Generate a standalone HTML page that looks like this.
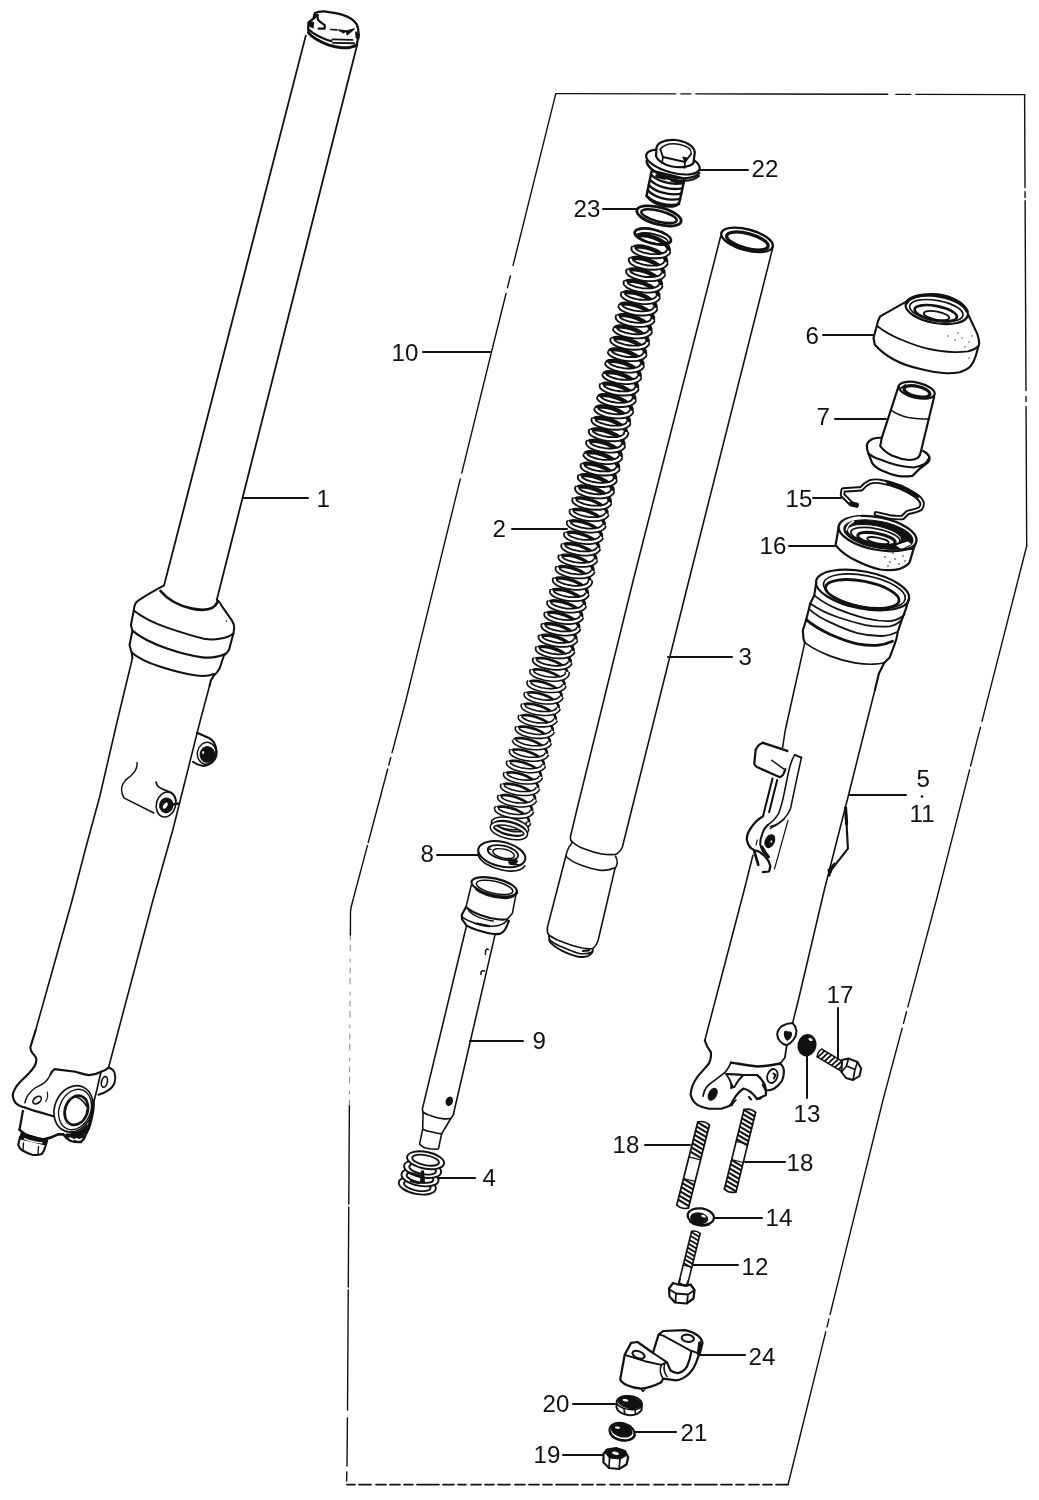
<!DOCTYPE html>
<html><head><meta charset="utf-8"><title>Front fork</title>
<style>
html,body{margin:0;padding:0;background:#fff;}
svg{display:block;}
.lb{font-family:"Liberation Sans",sans-serif;fill:#111;stroke:none;}
#lbl{filter:grayscale(1);}
</style></head><body>
<svg width="1039" height="1500" viewBox="0 0 1039 1500" stroke="#111" fill="none" stroke-linecap="round" stroke-linejoin="round">
<rect x="0" y="0" width="1039" height="1500" fill="#fff" stroke="none"/>
<path d="M555.8,93.6 L1024.6,94.6" stroke-width="1.4" stroke-dasharray="120 5 10 5 192 8 15 5 200 0"/>
<path d="M1024.6,94.6 L1026.7,546" stroke-width="1.4" stroke-dasharray="93 4 6 3 190 6 5 5 200 0"/>
<path d="M1026.7,546 L936.4,900 L883,1100 L789.2,1480 L788,1484.5" stroke-width="1.4" stroke-dasharray="181 6 40 4 245 5 12 5 295 5 8 5 400 0"/>
<path d="M788,1484.6 L347,1484.6" stroke-width="1.7" stroke-dasharray="12 4 9 4 10 5 8 4 11 4 22 4 9 4 10 4 10 5"/>
<path d="M346.6,1481 L346.8,1472 M347,1466 L347.4,1418 M347.5,1410 L349.4,1105" stroke-width="1.4" stroke-dasharray="120 3 80 3 200 0"/>
<path d="M349.4,1105 L350.4,935" stroke-width="1.2" stroke="#9a9a9a" stroke-dasharray="5 6 3 8 6 5"/>
<path d="M350.4,935 L350.5,912 Q350.6,909.5 351.4,906" stroke-width="1.4"/>
<path d="M555.8,93.6 L491.5,352 L406,700 L351.4,906" stroke-width="1.4" stroke-dasharray="177 11 12 6 185 6 282 5 8 4 76 3 300 0"/>
<g id="lbl">
<text x="316.6" y="507.2" font-size="24.1" class="lb">1</text>
<line x1="243" y1="498" x2="308" y2="498" stroke-width="2"/>
<text x="391.6" y="361.2" font-size="24.1" class="lb">10</text>
<line x1="423" y1="352" x2="491" y2="352" stroke-width="2"/>
<text x="492.6" y="537.2" font-size="24.1" class="lb">2</text>
<line x1="512" y1="529" x2="567" y2="529" stroke-width="2"/>
<text x="751.6" y="177.2" font-size="24.1" class="lb">22</text>
<line x1="700" y1="170" x2="748" y2="170" stroke-width="2"/>
<text x="573.6" y="217.2" font-size="24.1" class="lb">23</text>
<line x1="603" y1="209" x2="636" y2="209" stroke-width="2"/>
<text x="738.6" y="665.2" font-size="24.1" class="lb">3</text>
<line x1="668" y1="657" x2="732" y2="657" stroke-width="2"/>
<text x="805.6" y="343.7" font-size="24.1" class="lb">6</text>
<line x1="823" y1="335" x2="873" y2="335" stroke-width="2"/>
<text x="816.6" y="424.7" font-size="24.1" class="lb">7</text>
<line x1="835" y1="419" x2="886" y2="419" stroke-width="2"/>
<text x="785.6" y="507.2" font-size="24.1" class="lb">15</text>
<line x1="813" y1="498" x2="841" y2="498" stroke-width="2"/>
<text x="759.6" y="554.2" font-size="24.1" class="lb">16</text>
<line x1="789" y1="546" x2="835" y2="546" stroke-width="2"/>
<text x="916.6" y="787.2" font-size="24.1" class="lb">5</text>
<line x1="849" y1="795" x2="906" y2="795" stroke-width="2"/>
<text x="909.6" y="821.8000000000001" font-size="24.1" class="lb">11</text>
<circle cx="922" cy="796.5" r="1.3" fill="#111" stroke="none"/>
<text x="420.6" y="861.7" font-size="24.1" class="lb">8</text>
<line x1="437" y1="855" x2="479" y2="855" stroke-width="2"/>
<text x="532.6" y="1049.2" font-size="24.1" class="lb">9</text>
<line x1="470" y1="1041" x2="523" y2="1041" stroke-width="2"/>
<text x="482.6" y="1186.2" font-size="24.1" class="lb">4</text>
<line x1="434" y1="1178" x2="475" y2="1178" stroke-width="2"/>
<text x="826.6" y="1003.2" font-size="24.1" class="lb">17</text>
<line x1="838" y1="1008" x2="838" y2="1058" stroke-width="2"/>
<text x="793.6" y="1122.2" font-size="24.1" class="lb">13</text>
<line x1="807" y1="1045" x2="807" y2="1098" stroke-width="2"/>
<text x="612.6" y="1153.2" font-size="24.1" class="lb">18</text>
<line x1="645" y1="1145" x2="690" y2="1145" stroke-width="2"/>
<text x="786.6" y="1171.2" font-size="24.1" class="lb">18</text>
<line x1="745" y1="1162" x2="785" y2="1162" stroke-width="2"/>
<text x="765.6" y="1226.2" font-size="24.1" class="lb">14</text>
<line x1="714" y1="1218" x2="762" y2="1218" stroke-width="2"/>
<text x="741.6" y="1275.2" font-size="24.1" class="lb">12</text>
<line x1="693" y1="1265" x2="738" y2="1265" stroke-width="2"/>
<text x="748.6" y="1365.2" font-size="24.1" class="lb">24</text>
<line x1="697" y1="1355" x2="745" y2="1355" stroke-width="2"/>
<text x="542.6" y="1412.2" font-size="24.1" class="lb">20</text>
<line x1="573" y1="1404" x2="615" y2="1404" stroke-width="2"/>
<text x="680.6" y="1441.2" font-size="24.1" class="lb">21</text>
<line x1="633" y1="1432" x2="676" y2="1432" stroke-width="2"/>
<text x="533.6" y="1463.2" font-size="24.1" class="lb">19</text>
<line x1="563" y1="1455" x2="605" y2="1455" stroke-width="2"/>
</g>
<path d="M308.6,32.9 L308.2,28.6 L308.6,22.5 L313.4,18.6 L315.1,13 C319,11.2 324,11 329,12.1 C333.5,12.6 338,13.5 342,14.7 C345,15.7 348,17 350.7,18.6 C353,20 355,22 356.7,24.3 C358,27 358.6,30 358.5,32.9 L358,38.1 L356.7,45.1" stroke-width="2.35" fill="none" />
<path d="M308.6,32.9 C310.5,35.3 313,37.3 316,39 C320,41.5 324.5,43.5 329,45.1 C333,46.4 337.5,47.3 342,47.7 C345,47.9 348,47.7 350.7,47.2 C353,46.7 355,46 356.7,45.1" stroke-width="2.91" fill="none" />
<path d="M309.5,29.9 C311.3,31.8 313.5,33.3 316,34.7 C318.8,36.3 321.7,37.7 324.7,39 C327,40 329.3,40.7 331.6,41.2" stroke-width="2.24" fill="none" />
<path d="M332.5,39.4 L352.4,39.9 M333.3,42.9 L354.1,43.3" stroke-width="1.9" fill="none" />
<path d="M317.7,15.2 C317.3,17 317.5,18.5 318.2,19.9 C320,22 322.5,23.6 324.7,25.1 L324.7,28.6 L318.6,28.6" stroke-width="2.24" fill="none" />
<path d="M308.6,22.1 L313.4,22.5 L313,27.7 L308.6,25.5 Z" stroke-width="1.34" fill="#111" />
<path d="M314,14 L318,15 L314.5,18.5 Z" stroke-width="1.12" fill="#111" />
<path d="M330.7,29.5 L336.8,29.9" stroke-width="1.68" fill="none" />
<path d="M338.5,29.9 L343.7,32.9 L346.3,30.8 Z" stroke-width="1.12" fill="#111" />
<path d="M346.3,31.2 L354.1,29 L347.2,34.7 Z" stroke-width="1.34" fill="#111" />
<path d="M355.9,32.1 L359.3,34.7 L358.5,39 L356.3,37.3 Z" stroke-width="1.57" fill="#111" />
<path d="M305.8,35.6 L164.1,585.3" stroke-width="1.79" fill="none" />
<path d="M356.8,46.2 L216.8,599.7" stroke-width="1.79" fill="none" />
<path d="M160.5,591 C168,600 180,606 192,608.6 C202,610.6 214,610.6 217.5,602" stroke-width="2.69" fill="none" />
<path d="M164.1,585.3 C156,590 144,596 136.7,601.9 C134.5,604 134,607 133.8,610.5 L130.9,625 L132.4,630.7 L129.5,645.2 L131.7,652.4 L132.4,658.2" stroke-width="2.02" fill="none" />
<path d="M216.8,599.7 C219,601 220.5,603 221.9,606.2 L232,620.6 C233.5,623 234.3,625.5 234.2,627.9 L233.4,633.6 L229.1,649.5 C228,652 226,654 224,655.3 L219.7,668.3 C218,671.5 216,674 213.9,675.5 C211.5,678.5 210,682 209.6,685.6" stroke-width="2.02" fill="none" />
<path d="M133.8,610.5 C143,618 155,623.5 167.7,627.9 C180,632 192,636 203.8,638.7 C214,640.5 226,639 233.4,633.6" stroke-width="2.02" fill="none" />
<path d="M132.4,630.7 C142,639 155,644.5 167.7,648.8 C180,653 192,656 202.4,657.4 C210,658.3 219,657 225.5,653.8" stroke-width="2.24" fill="none" />
<path d="M131.7,652.4 C139,659 149,663 160.5,666.8 C172,670.5 185,674 196.6,675.5 C203,676.3 209,676 213.9,674" stroke-width="2.02" fill="none" />
<circle cx="226.5" cy="621" r="0.8" fill="#111" stroke="none"/>
<path d="M132.4,658.2 L117.5,720 L100,795.5 L85.2,850 L72.2,900 L35.7,1030" stroke-width="1.62" fill="none" />
<path d="M209.6,685.6 L200.4,720 L172.8,830 L153,900 L108.5,1067.7" stroke-width="1.62" fill="none" />
<path d="M197,732.8 L209,738 C213,740 216,745 216.6,751 C217,757 214,761.5 210.5,763.5 C207,765.8 204,766 202.4,765.8 C198,765 195,763.5 193,761.8" stroke-width="2.02" fill="none" />
<ellipse cx="206.6" cy="753.2" rx="9.2" ry="11" transform="rotate(12 206.6 753.2)" stroke-width="1.46" fill="none" />
<ellipse cx="207.3" cy="754.4" rx="7.2" ry="7.8" transform="rotate(10 207.3 754.4)" stroke-width="1.12" fill="#111" />
<ellipse cx="203.2" cy="752.5" rx="1" ry="1.6" fill="#fff" stroke="none"/>
<path d="M137,762.5 C137.5,766 136.5,768.5 135,771.2 C132.5,775 129,778 125.6,780 M127,779 C123.5,782 121.5,786 121.6,790 C121.8,793.5 122.5,796 124.3,798.2 L153.9,813" stroke-width="1.46" fill="none" />
<path d="M155.9,782 C156.5,784.5 157.5,786 159.3,787.4 C163,790 168,791 171.4,792.8 C174,794.5 175.6,797.5 176.1,800.9" stroke-width="1.68" fill="none" />
<ellipse cx="166" cy="804.5" rx="9.6" ry="12.6" transform="rotate(15 166 804.5)" stroke-width="1.57" fill="none" />
<ellipse cx="166.3" cy="805.3" rx="6.6" ry="7.3" transform="rotate(15 166.3 805.3)" stroke-width="1.12" fill="#111" />
<ellipse cx="165.3" cy="805.6" rx="1.8" ry="3.4" transform="rotate(35 165.3 805.6)" fill="#fff" stroke="none"/>
<path d="M173,804.5 L178,803.5" stroke-width="2.46" fill="none" />
<path d="M35.7,1030 L30.3,1047.5 C30.5,1050 31.2,1051.5 32.3,1052.9 C34.5,1055 36.3,1057 36.4,1059.6 C36.3,1062 35.6,1064.5 34.4,1066.4 C31,1072 26,1076.5 21.6,1080.5 C18.5,1083.5 16,1086.5 14.8,1089.3 C13.2,1092 12.6,1094 12.8,1096 C13,1099 14,1101 15.5,1102.8 C18,1105.5 21.5,1106.8 24.9,1107.5" stroke-width="2.13" fill="none" />
<path d="M24.9,1107.5 C30,1109.5 34.5,1111 39.1,1112.2 C44,1113.5 49,1115 53.9,1116.3" stroke-width="2.24" fill="none" />
<path d="M108.5,1067.7 C106.5,1069.5 104,1071 101.1,1071.8 C97,1074 93,1075 89,1075.1 C84,1074.6 80,1073 75.5,1071.8 L54.6,1069.1 C52.5,1070.5 51.2,1072.5 50.5,1074.5" stroke-width="2.13" fill="none" />
<path d="M50.5,1074.5 C49,1077.5 47,1080.5 44.5,1082.6 C41.5,1085 38,1086.5 35,1088 C32,1090 30,1092.5 28.3,1094.7 C26.5,1097.5 25.4,1100 24.9,1102.8" stroke-width="1.46" fill="none" />
<ellipse cx="37.1" cy="1100.1" rx="4.8" ry="3.0" transform="rotate(-38 37.1 1100.1)" stroke-width="1.68" fill="none" />
<path d="M47.2,1092 C48.2,1095 47.5,1098.5 45.8,1101.4" stroke-width="1.12" fill="none" />
<path d="M108.5,1067.7 C112,1068.5 114,1070.5 114.6,1073.1 C115.6,1076.5 115.6,1079.5 114.6,1082.6 C113.5,1086 111,1088.6 107.8,1090.6 C105,1092.5 101.5,1094 98.4,1094.7" stroke-width="1.9" fill="none" />
<ellipse cx="104.4" cy="1081.9" rx="2.9" ry="5.4" transform="rotate(14 104.4 1081.9)" stroke-width="1.68" fill="none" />
<path d="M101.1,1071.8 C99.5,1078 98.2,1084 97,1089.3 L94.3,1100.1" stroke-width="1.68" fill="none" />
<ellipse cx="73.5" cy="1108.8" rx="18.8" ry="23.8" transform="rotate(22 73.5 1108.8)" stroke-width="1.68" fill="none" />
<ellipse cx="75" cy="1109.5" rx="15.6" ry="20.8" transform="rotate(22 75 1109.5)" stroke-width="1.34" fill="none" />
<ellipse cx="76.3" cy="1110.3" rx="11.2" ry="15" transform="rotate(20 76.3 1110.3)" stroke-width="2.69" fill="none" />
<path d="M76,1097 C80,1098 84,1102 86.5,1106" stroke-width="1.79" fill="none" />
<path d="M93.2,1101 C93.5,1108 92,1116 90,1123 C89,1127 87.8,1130 86.3,1132.4" stroke-width="3.36" fill="none" />
<path d="M70,1132.5 C76,1133.5 82,1131 87,1125 L86,1132 L80,1136 Z" stroke-width="1.34" fill="#111" />
<path d="M22.9,1110.9 L19.5,1129.7" stroke-width="2.24" fill="none" />
<path d="M19.5,1129.7 C23,1133.5 27,1135.5 31,1136.5 C36,1138.5 40,1139.5 44.5,1139.2 C49,1138.5 54,1136.5 58,1134.4 L63.3,1134.4" stroke-width="2.69" fill="none" />
<path d="M63.3,1134.4 C65.5,1137.5 67.5,1139.5 70.1,1140.5 C74,1141.8 77.5,1142.2 80.9,1141.9 C83,1140.5 84.2,1138.6 84.9,1136.5 C86,1134 87,1131 87.6,1128.4" stroke-width="2.46" fill="none" />
<path d="M66,1136.5 L72,1138.5 L78,1139 L83,1137 L84,1134 L66,1134 Z" stroke-width="1.12" fill="#111" />
<path d="M70,1138 l3,1.6 M76,1139 l3,0.6" stroke-width="1.79" fill="none" stroke="#fff"/>
<path d="M20.2,1136.5 L18.2,1144.6 C19,1147 20,1148.8 21.6,1150 C25,1152 28.5,1153.7 32.3,1154.7 C35.5,1155.2 38.8,1155 41.8,1154 C43.5,1152 44.5,1149.8 45.1,1147.3 L47.2,1140.5" stroke-width="2.13" fill="none" />
<path d="M21,1133 L47,1140 L45.5,1145 L20.5,1139 Z" stroke-width="1.12" fill="#111" />
<path d="M24.5,1138.6 C30,1141.2 36,1142.5 42,1142.8" stroke-width="1.34" fill="none" stroke="#fff"/>
<path d="M23.5,1143 L23,1150 M38.5,1146.5 L38,1154" stroke-width="1.34" fill="none" />
<path d="M636.0,236.8 L636.7,236.0 L638.2,235.3 L640.4,235.0 L643.2,235.1 L646.6,235.5 L650.2,236.4 L653.9,237.5 L657.5,239.0 L660.9,240.8 L663.9,242.7 L666.2,244.8 L667.9,246.9 L668.7,249.0 L668.7,250.9 L667.8,252.6" stroke-width="4.30" stroke-linecap="butt" stroke="#111"/>
<path d="M633.4,248.3 L634.1,247.4 L635.6,246.8 L637.8,246.5 L640.6,246.5 L644.0,247.0 L647.6,247.8 L651.3,249.0 L655.0,250.5 L658.3,252.2 L661.3,254.2 L663.6,256.2 L665.3,258.3 L666.1,260.4 L666.1,262.3 L665.2,264.0" stroke-width="4.30" stroke-linecap="butt" stroke="#111"/>
<path d="M630.8,259.7 L631.5,258.8 L633.0,258.2 L635.2,257.9 L638.0,258.0 L641.4,258.4 L645.0,259.2 L648.7,260.4 L652.3,261.9 L655.7,263.7 L658.7,265.6 L661.0,267.7 L662.7,269.8 L663.5,271.8 L663.5,273.7 L662.6,275.4" stroke-width="4.30" stroke-linecap="butt" stroke="#111"/>
<path d="M628.2,271.1 L628.9,270.2 L630.4,269.6 L632.6,269.3 L635.4,269.4 L638.7,269.8 L642.4,270.7 L646.1,271.8 L649.7,273.3 L653.1,275.1 L656.1,277.0 L658.4,279.1 L660.1,281.2 L660.9,283.2 L660.9,285.2 L660.0,286.9" stroke-width="4.30" stroke-linecap="butt" stroke="#111"/>
<path d="M625.6,282.6 L626.3,281.7 L627.7,281.1 L630.0,280.8 L632.8,280.8 L636.1,281.3 L639.7,282.1 L643.5,283.3 L647.1,284.8 L650.5,286.5 L653.4,288.5 L655.8,290.5 L657.4,292.6 L658.3,294.7 L658.3,296.6 L657.4,298.3" stroke-width="4.30" stroke-linecap="butt" stroke="#111"/>
<path d="M622.9,294.0 L623.6,293.1 L625.1,292.5 L627.3,292.2 L630.2,292.3 L633.5,292.7 L637.1,293.5 L640.8,294.7 L644.5,296.2 L647.9,297.9 L650.8,299.9 L653.2,302.0 L654.8,304.1 L655.6,306.1 L655.6,308.0 L654.8,309.7" stroke-width="4.30" stroke-linecap="butt" stroke="#111"/>
<path d="M620.5,306.5 L620.3,305.4 L621.0,304.5 L622.5,303.9 L624.7,303.6 L627.5,303.7 L630.9,304.1 L634.5,305.0 L638.2,306.1 L641.8,307.6 L645.2,309.4 L648.2,311.3 L650.5,313.4 L652.2,315.5 L653.0,317.5 L653.0,319.5 L652.1,321.2" stroke-width="4.30" stroke-linecap="butt" stroke="#111"/>
<path d="M617.7,316.9 L618.3,316.0 L619.8,315.4 L622.1,315.1 L624.9,315.1 L628.2,315.6 L631.8,316.4 L635.6,317.6 L639.2,319.1 L642.6,320.8 L645.5,322.8 L647.9,324.8 L649.5,326.9 L650.4,329.0 L650.3,330.9 L649.5,332.6" stroke-width="4.30" stroke-linecap="butt" stroke="#111"/>
<path d="M615.2,329.4 L615.0,328.3 L615.7,327.4 L617.2,326.8 L619.4,326.5 L622.3,326.6 L625.6,327.0 L629.2,327.8 L632.9,329.0 L636.6,330.5 L639.9,332.2 L642.9,334.2 L645.2,336.3 L646.9,338.4 L647.7,340.4 L647.7,342.3 L646.8,344.0" stroke-width="4.30" stroke-linecap="butt" stroke="#111"/>
<path d="M612.4,339.7 L613.0,338.8 L614.5,338.2 L616.8,337.9 L619.6,338.0 L622.9,338.4 L626.5,339.3 L630.2,340.4 L633.9,341.9 L637.3,343.7 L640.2,345.6 L642.6,347.7 L644.2,349.8 L645.0,351.8 L645.0,353.8 L644.2,355.5" stroke-width="4.30" stroke-linecap="butt" stroke="#111"/>
<path d="M609.9,352.3 L609.7,351.2 L610.4,350.3 L611.9,349.6 L614.1,349.4 L616.9,349.4 L620.2,349.9 L623.8,350.7 L627.6,351.9 L631.2,353.3 L634.6,355.1 L637.5,357.1 L639.9,359.1 L641.5,361.2 L642.4,363.3 L642.4,365.2 L641.5,366.9" stroke-width="4.30" stroke-linecap="butt" stroke="#111"/>
<path d="M607.2,363.7 L607.0,362.6 L607.7,361.7 L609.2,361.1 L611.4,360.8 L614.2,360.9 L617.6,361.3 L621.2,362.1 L624.9,363.3 L628.5,364.8 L631.9,366.5 L634.9,368.5 L637.2,370.5 L638.9,372.6 L639.7,374.7 L639.7,376.6 L638.8,378.3" stroke-width="4.30" stroke-linecap="butt" stroke="#111"/>
<path d="M604.5,375.1 L604.3,374.0 L605.0,373.1 L606.5,372.5 L608.7,372.2 L611.6,372.3 L614.9,372.7 L618.5,373.5 L622.2,374.7 L625.9,376.2 L629.2,378.0 L632.2,379.9 L634.5,382.0 L636.2,384.1 L637.0,386.1 L637.0,388.0 L636.1,389.8" stroke-width="4.30" stroke-linecap="butt" stroke="#111"/>
<path d="M601.7,385.5 L602.3,384.6 L603.8,383.9 L606.0,383.6 L608.9,383.7 L612.2,384.2 L615.8,385.0 L619.5,386.2 L623.2,387.6 L626.6,389.4 L629.5,391.3 L631.8,393.4 L633.5,395.5 L634.3,397.6 L634.3,399.5 L633.4,401.2" stroke-width="4.30" stroke-linecap="butt" stroke="#111"/>
<path d="M599.1,398.0 L599.0,396.9 L599.6,396.0 L601.1,395.4 L603.3,395.1 L606.2,395.1 L609.5,395.6 L613.1,396.4 L616.8,397.6 L620.5,399.1 L623.9,400.8 L626.8,402.8 L629.1,404.8 L630.8,406.9 L631.6,409.0 L631.6,410.9 L630.7,412.6" stroke-width="4.30" stroke-linecap="butt" stroke="#111"/>
<path d="M596.4,409.4 L596.2,408.3 L596.9,407.4 L598.4,406.8 L600.6,406.5 L603.5,406.6 L606.8,407.0 L610.4,407.8 L614.1,409.0 L617.8,410.5 L621.1,412.3 L624.1,414.2 L626.4,416.3 L628.1,418.4 L628.9,420.4 L628.9,422.3 L628.0,424.1" stroke-width="4.30" stroke-linecap="butt" stroke="#111"/>
<path d="M593.5,419.7 L594.2,418.9 L595.7,418.2 L597.9,417.9 L600.8,418.0 L604.1,418.5 L607.7,419.3 L611.4,420.4 L615.0,421.9 L618.4,423.7 L621.4,425.6 L623.7,427.7 L625.4,429.8 L626.2,431.9 L626.2,433.8" stroke-width="4.30" stroke-linecap="butt" stroke="#111"/>
<path d="M590.8,431.2 L591.5,430.3 L593.0,429.7 L595.2,429.4 L598.0,429.4 L601.3,429.9 L604.9,430.7 L608.7,431.9 L612.3,433.4 L615.7,435.1 L618.6,437.1 L621.0,439.1 L622.6,441.2 L623.5,443.3 L623.4,445.2 L622.6,446.9" stroke-width="4.30" stroke-linecap="butt" stroke="#111"/>
<path d="M588.1,442.6 L588.8,441.7 L590.2,441.1 L592.5,440.8 L595.3,440.9 L598.6,441.3 L602.2,442.1 L605.9,443.3 L609.6,444.8 L613.0,446.6 L615.9,448.5 L618.3,450.6 L619.9,452.7 L620.7,454.7 L620.7,456.6 L619.8,458.3" stroke-width="4.30" stroke-linecap="butt" stroke="#111"/>
<path d="M585.5,455.1 L585.3,454.0 L586.0,453.1 L587.5,452.5 L589.7,452.2 L592.6,452.3 L595.9,452.7 L599.5,453.6 L603.2,454.7 L606.8,456.2 L610.2,458.0 L613.2,459.9 L615.5,462.0 L617.2,464.1 L618.0,466.1 L618.0,468.1 L617.1,469.8" stroke-width="4.30" stroke-linecap="butt" stroke="#111"/>
<path d="M582.6,465.5 L583.3,464.6 L584.8,464.0 L587.0,463.7 L589.8,463.7 L593.1,464.2 L596.7,465.0 L600.5,466.2 L604.1,467.7 L607.5,469.4 L610.4,471.4 L612.8,473.4 L614.4,475.5 L615.2,477.6 L615.2,479.5 L614.4,481.2" stroke-width="4.30" stroke-linecap="butt" stroke="#111"/>
<path d="M579.8,476.9 L580.5,476.0 L582.0,475.4 L584.2,475.1 L587.1,475.2 L590.4,475.6 L594.0,476.4 L597.7,477.6 L601.3,479.1 L604.7,480.8 L607.7,482.8 L610.0,484.9 L611.6,487.0 L612.5,489.0 L612.5,490.9 L611.6,492.6" stroke-width="4.30" stroke-linecap="butt" stroke="#111"/>
<path d="M577.1,488.3 L577.8,487.4 L579.2,486.8 L581.5,486.5 L584.3,486.6 L587.6,487.0 L591.2,487.9 L594.9,489.0 L598.6,490.5 L602.0,492.3 L604.9,494.2 L607.2,496.3 L608.9,498.4 L609.7,500.4 L609.7,502.4 L608.8,504.1" stroke-width="4.30" stroke-linecap="butt" stroke="#111"/>
<path d="M574.3,499.8 L575.0,498.9 L576.5,498.3 L578.7,498.0 L581.5,498.0 L584.8,498.5 L588.4,499.3 L592.2,500.5 L595.8,502.0 L599.2,503.7 L602.1,505.7 L604.5,507.7 L606.1,509.8 L606.9,511.9 L606.9,513.8 L606.1,515.5" stroke-width="3.40" stroke-linecap="butt" stroke="#111"/>
<path d="M571.5,511.2 L572.2,510.3 L573.7,509.7 L575.9,509.4 L578.7,509.5 L582.0,509.9 L585.7,510.7 L589.4,511.9 L593.0,513.4 L596.4,515.1 L599.3,517.1 L601.7,519.2 L603.3,521.3 L604.2,523.3 L604.1,525.2 L603.3,526.9" stroke-width="3.40" stroke-linecap="butt" stroke="#111"/>
<path d="M568.7,522.6 L569.4,521.7 L570.9,521.1 L573.1,520.8 L576.0,520.9 L579.3,521.3 L582.9,522.2 L586.6,523.3 L590.2,524.8 L593.6,526.6 L596.6,528.5 L598.9,530.6 L600.5,532.7 L601.4,534.7 L601.3,536.7 L600.5,538.4" stroke-width="3.40" stroke-linecap="butt" stroke="#111"/>
<path d="M566.0,534.1 L566.6,533.2 L568.1,532.5 L570.3,532.3 L573.2,532.3 L576.5,532.8 L580.1,533.6 L583.8,534.8 L587.4,536.3 L590.8,538.0 L593.8,540.0 L596.1,542.0 L597.7,544.1 L598.6,546.2 L598.6,548.1 L597.7,549.8" stroke-width="3.40" stroke-linecap="butt" stroke="#111"/>
<path d="M563.2,545.5 L563.8,544.6 L565.3,544.0 L567.5,543.7 L570.4,543.8 L573.7,544.2 L577.3,545.0 L581.0,546.2 L584.6,547.7 L588.0,549.4 L591.0,551.4 L593.3,553.4 L594.9,555.6 L595.8,557.6 L595.7,559.5 L594.9,561.2" stroke-width="3.40" stroke-linecap="butt" stroke="#111"/>
<path d="M560.3,556.9 L561.0,556.0 L562.5,555.4 L564.7,555.1 L567.5,555.2 L570.9,555.6 L574.5,556.4 L578.2,557.6 L581.8,559.1 L585.2,560.9 L588.1,562.8 L590.5,564.9 L592.1,567.0 L592.9,569.0 L592.9,570.9 L592.1,572.7" stroke-width="3.40" stroke-linecap="butt" stroke="#111"/>
<path d="M557.5,568.4 L558.2,567.5 L559.7,566.8 L561.9,566.5 L564.7,566.6 L568.0,567.1 L571.6,567.9 L575.4,569.1 L579.0,570.5 L582.4,572.3 L585.3,574.2 L587.7,576.3 L589.3,578.4 L590.1,580.5 L590.1,582.4" stroke-width="3.40" stroke-linecap="butt" stroke="#111"/>
<path d="M554.7,579.8 L555.4,578.9 L556.8,578.3 L559.1,578.0 L561.9,578.0 L565.2,578.5 L568.8,579.3 L572.5,580.5 L576.2,582.0 L579.6,583.7 L582.5,585.7 L584.8,587.7 L586.5,589.8 L587.3,591.9 L587.3,593.8 L586.4,595.5" stroke-width="3.40" stroke-linecap="butt" stroke="#111"/>
<path d="M551.9,591.2 L552.5,590.3 L554.0,589.7 L556.2,589.4 L559.1,589.5 L562.4,589.9 L566.0,590.7 L569.7,591.9 L573.3,593.4 L576.7,595.2 L579.7,597.1 L582.0,599.2 L583.6,601.3 L584.5,603.3 L584.4,605.2 L583.6,607.0" stroke-width="3.40" stroke-linecap="butt" stroke="#111"/>
<path d="M549.0,602.6 L549.7,601.8 L551.2,601.1 L553.4,600.8 L556.2,600.9 L559.5,601.4 L563.1,602.2 L566.9,603.3 L570.5,604.8 L573.9,606.6 L576.8,608.5 L579.2,610.6 L580.8,612.7 L581.6,614.8 L581.6,616.7 L580.7,618.4" stroke-width="3.40" stroke-linecap="butt" stroke="#111"/>
<path d="M546.2,614.1 L546.8,613.2 L548.3,612.6 L550.5,612.3 L553.4,612.3 L556.7,612.8 L560.3,613.6 L564.0,614.8 L567.6,616.3 L571.0,618.0 L574.0,620.0 L576.3,622.0 L577.9,624.1 L578.8,626.2 L578.7,628.1 L577.9,629.8" stroke-width="3.40" stroke-linecap="butt" stroke="#111"/>
<path d="M543.3,625.5 L544.0,624.6 L545.5,624.0 L547.7,623.7 L550.5,623.8 L553.8,624.2 L557.4,625.0 L561.1,626.2 L564.8,627.7 L568.2,629.5 L571.1,631.4 L573.4,633.5 L575.1,635.6 L575.9,637.6 L575.9,639.5 L575.0,641.2" stroke-width="3.40" stroke-linecap="butt" stroke="#111"/>
<path d="M540.4,636.9 L541.1,636.1 L542.6,635.4 L544.8,635.1 L547.6,635.2 L550.9,635.6 L554.6,636.5 L558.3,637.6 L561.9,639.1 L565.3,640.9 L568.2,642.8 L570.6,644.9 L572.2,647.0 L573.0,649.1 L573.0,651.0 L572.1,652.7" stroke-width="3.40" stroke-linecap="butt" stroke="#111"/>
<path d="M537.6,648.4 L538.2,647.5 L539.7,646.9 L541.9,646.6 L544.8,646.6 L548.1,647.1 L551.7,647.9 L555.4,649.1 L559.0,650.6 L562.4,652.3 L565.3,654.3 L567.7,656.3 L569.3,658.4 L570.2,660.5 L570.1,662.4 L569.3,664.1" stroke-width="3.40" stroke-linecap="butt" stroke="#111"/>
<path d="M534.7,659.8 L535.4,658.9 L536.8,658.3 L539.1,658.0 L541.9,658.1 L545.2,658.5 L548.8,659.3 L552.5,660.5 L556.2,662.0 L559.5,663.7 L562.5,665.7 L564.8,667.8 L566.4,669.9 L567.3,671.9 L567.2,673.8" stroke-width="2.70" stroke-linecap="butt" stroke="#111"/>
<path d="M531.8,671.2 L532.5,670.3 L533.9,669.7 L536.2,669.4 L539.0,669.5 L542.3,669.9 L545.9,670.8 L549.6,671.9 L553.3,673.4 L556.6,675.2 L559.6,677.1 L561.9,679.2 L563.5,681.3 L564.4,683.3 L564.4,685.3 L563.5,687.0" stroke-width="2.70" stroke-linecap="butt" stroke="#111"/>
<path d="M528.9,682.7 L529.6,681.8 L531.0,681.2 L533.3,680.9 L536.1,680.9 L539.4,681.4 L543.0,682.2 L546.7,683.4 L550.4,684.9 L553.7,686.6 L556.7,688.6 L559.0,690.6 L560.6,692.7 L561.5,694.8 L561.4,696.7 L560.6,698.4" stroke-width="2.70" stroke-linecap="butt" stroke="#111"/>
<path d="M526.0,694.1 L526.7,693.2 L528.1,692.6 L530.4,692.3 L533.2,692.4 L536.5,692.8 L540.1,693.6 L543.8,694.8 L547.5,696.3 L550.8,698.0 L553.8,700.0 L556.1,702.1 L557.7,704.2 L558.6,706.2 L558.5,708.1 L557.7,709.8" stroke-width="2.70" stroke-linecap="butt" stroke="#111"/>
<path d="M523.1,705.5 L523.7,704.6 L525.2,704.0 L527.4,703.7 L530.3,703.8 L533.6,704.2 L537.2,705.1 L540.9,706.2 L544.5,707.7 L547.9,709.5 L550.8,711.4 L553.2,713.5 L554.8,715.6 L555.6,717.6 L555.6,719.6 L554.7,721.3" stroke-width="2.70" stroke-linecap="butt" stroke="#111"/>
<path d="M520.2,717.0 L520.8,716.1 L522.3,715.5 L524.5,715.2 L527.3,715.2 L530.7,715.7 L534.3,716.5 L538.0,717.7 L541.6,719.2 L545.0,720.9 L547.9,722.9 L550.3,724.9 L551.9,727.0 L552.7,729.1 L552.7,731.0 L551.8,732.7" stroke-width="2.70" stroke-linecap="butt" stroke="#111"/>
<path d="M517.2,728.4 L517.9,727.5 L519.4,726.9 L521.6,726.6 L524.4,726.7 L527.7,727.1 L531.3,727.9 L535.0,729.1 L538.7,730.6 L542.1,732.3 L545.0,734.3 L547.3,736.4 L549.0,738.5 L549.8,740.5 L549.8,742.4 L548.9,744.1" stroke-width="2.70" stroke-linecap="butt" stroke="#111"/>
<path d="M514.5,740.9 L514.3,739.8 L515.0,738.9 L516.4,738.3 L518.6,738.0 L521.5,738.1 L524.8,738.5 L528.4,739.3 L532.1,740.5 L535.7,742.0 L539.1,743.8 L542.0,745.7 L544.4,747.8 L546.0,749.9 L546.8,751.9 L546.8,753.9 L545.9,755.6" stroke-width="2.70" stroke-linecap="butt" stroke="#111"/>
<path d="M511.3,751.3 L512.0,750.4 L513.5,749.7 L515.7,749.5 L518.5,749.5 L521.8,750.0 L525.4,750.8 L529.1,752.0 L532.8,753.4 L536.2,755.2 L539.1,757.1 L541.4,759.2 L543.1,761.3 L543.9,763.4 L543.9,765.3 L543.0,767.0" stroke-width="2.70" stroke-linecap="butt" stroke="#111"/>
<path d="M508.4,762.7 L509.1,761.8 L510.5,761.2 L512.7,760.9 L515.6,760.9 L518.9,761.4 L522.5,762.2 L526.2,763.4 L529.8,764.9 L533.2,766.6 L536.1,768.6 L538.5,770.6 L540.1,772.7 L540.9,774.8 L540.9,776.7 L540.0,778.4" stroke-width="2.70" stroke-linecap="butt" stroke="#111"/>
<path d="M505.4,774.1 L506.1,773.2 L507.6,772.6 L509.8,772.3 L512.6,772.4 L515.9,772.8 L519.5,773.6 L523.2,774.8 L526.9,776.3 L530.2,778.1 L533.2,780.0 L535.5,782.1 L537.1,784.2 L538.0,786.2 L537.9,788.1 L537.1,789.9" stroke-width="2.70" stroke-linecap="butt" stroke="#111"/>
<path d="M502.5,785.6 L503.1,784.7 L504.6,784.0 L506.8,783.7 L509.6,783.8 L512.9,784.3 L516.5,785.1 L520.3,786.2 L523.9,787.7 L527.3,789.5 L530.2,791.4 L532.5,793.5 L534.2,795.6 L535.0,797.7 L535.0,799.6 L534.1,801.3" stroke-width="2.70" stroke-linecap="butt" stroke="#111"/>
<path d="M499.5,797.0 L500.1,796.1 L501.6,795.5 L503.8,795.2 L506.7,795.2 L510.0,795.7 L513.6,796.5 L517.3,797.7 L520.9,799.2 L524.3,800.9 L527.2,802.9 L529.6,804.9 L531.2,807.0 L532.0,809.1 L532.0,811.0 L531.1,812.7" stroke-width="2.70" stroke-linecap="butt" stroke="#111"/>
<path d="M496.5,808.4 L497.2,807.5 L498.6,806.9 L500.8,806.6 L503.7,806.7 L507.0,807.1 L510.6,807.9 L514.3,809.1 L517.9,810.6 L521.3,812.4 L524.2,814.3 L526.6,816.4 L528.2,818.5 L529.0,820.5 L529.0,822.4 L528.1,824.1" stroke-width="2.70" stroke-linecap="butt" stroke="#111"/>
<path d="M636.0,236.8 L636.7,236.0" stroke-width="6.00" stroke-linecap="butt" stroke="#111"/>
<path d="M636.0,236.8 L636.7,236.0" stroke-width="2.30" stroke-linecap="butt" stroke="#fff"/>
<path d="M668.7,250.9 L667.8,252.6 L666.2,254.0 L663.8,255.1 L660.7,255.9 L657.2,256.2 L653.4,256.2 L649.5,255.9 L645.7,255.2 L642.1,254.3 L639.0,253.1 L636.4,251.9 L634.6,250.6 L633.6,249.4 L633.4,248.3 L634.1,247.4" stroke-width="6.00" stroke-linecap="butt" stroke="#111"/>
<path d="M668.7,250.9 L667.8,252.6 L666.2,254.0 L663.8,255.1 L660.7,255.9 L657.2,256.2 L653.4,256.2 L649.5,255.9 L645.7,255.2 L642.1,254.3 L639.0,253.1 L636.4,251.9 L634.6,250.6 L633.6,249.4 L633.4,248.3 L634.1,247.4" stroke-width="2.30" stroke-linecap="butt" stroke="#fff"/>
<path d="M666.1,262.3 L665.2,264.0 L663.6,265.4 L661.2,266.6 L658.1,267.3 L654.6,267.7 L650.8,267.7 L646.9,267.3 L643.1,266.6 L639.5,265.7 L636.4,264.6 L633.8,263.3 L632.0,262.0 L631.0,260.8 L630.8,259.7 L631.5,258.8" stroke-width="6.00" stroke-linecap="butt" stroke="#111"/>
<path d="M666.1,262.3 L665.2,264.0 L663.6,265.4 L661.2,266.6 L658.1,267.3 L654.6,267.7 L650.8,267.7 L646.9,267.3 L643.1,266.6 L639.5,265.7 L636.4,264.6 L633.8,263.3 L632.0,262.0 L631.0,260.8 L630.8,259.7 L631.5,258.8" stroke-width="2.30" stroke-linecap="butt" stroke="#fff"/>
<path d="M663.5,273.7 L662.6,275.4 L661.0,276.9 L658.5,278.0 L655.5,278.7 L652.0,279.1 L648.2,279.1 L644.3,278.8 L640.5,278.1 L636.9,277.1 L633.8,276.0 L631.2,274.8 L629.4,273.5 L628.4,272.2 L628.2,271.1 L628.9,270.2" stroke-width="6.00" stroke-linecap="butt" stroke="#111"/>
<path d="M663.5,273.7 L662.6,275.4 L661.0,276.9 L658.5,278.0 L655.5,278.7 L652.0,279.1 L648.2,279.1 L644.3,278.8 L640.5,278.1 L636.9,277.1 L633.8,276.0 L631.2,274.8 L629.4,273.5 L628.4,272.2 L628.2,271.1 L628.9,270.2" stroke-width="2.30" stroke-linecap="butt" stroke="#fff"/>
<path d="M660.9,285.2 L660.0,286.9 L658.3,288.3 L655.9,289.4 L652.9,290.2 L649.4,290.5 L645.6,290.5 L641.7,290.2 L637.8,289.5 L634.3,288.6 L631.1,287.4 L628.6,286.2 L626.8,284.9 L625.8,283.7 L625.6,282.6 L626.3,281.7" stroke-width="6.00" stroke-linecap="butt" stroke="#111"/>
<path d="M660.9,285.2 L660.0,286.9 L658.3,288.3 L655.9,289.4 L652.9,290.2 L649.4,290.5 L645.6,290.5 L641.7,290.2 L637.8,289.5 L634.3,288.6 L631.1,287.4 L628.6,286.2 L626.8,284.9 L625.8,283.7 L625.6,282.6 L626.3,281.7" stroke-width="2.30" stroke-linecap="butt" stroke="#fff"/>
<path d="M658.3,296.6 L657.4,298.3 L655.7,299.7 L653.3,300.9 L650.3,301.6 L646.8,302.0 L643.0,302.0 L639.1,301.6 L635.2,300.9 L631.7,300.0 L628.5,298.9 L626.0,297.6 L624.2,296.3 L623.1,295.1 L622.9,294.0 L623.6,293.1" stroke-width="6.00" stroke-linecap="butt" stroke="#111"/>
<path d="M658.3,296.6 L657.4,298.3 L655.7,299.7 L653.3,300.9 L650.3,301.6 L646.8,302.0 L643.0,302.0 L639.1,301.6 L635.2,300.9 L631.7,300.0 L628.5,298.9 L626.0,297.6 L624.2,296.3 L623.1,295.1 L622.9,294.0 L623.6,293.1" stroke-width="2.30" stroke-linecap="butt" stroke="#fff"/>
<path d="M655.6,308.0 L654.8,309.7 L653.1,311.2 L650.7,312.3 L647.6,313.0 L644.1,313.4 L640.3,313.4 L636.4,313.0 L632.6,312.4 L629.0,311.4 L625.9,310.3 L623.3,309.1 L621.5,307.8 L620.5,306.5 L620.3,305.4" stroke-width="6.00" stroke-linecap="butt" stroke="#111"/>
<path d="M655.6,308.0 L654.8,309.7 L653.1,311.2 L650.7,312.3 L647.6,313.0 L644.1,313.4 L640.3,313.4 L636.4,313.0 L632.6,312.4 L629.0,311.4 L625.9,310.3 L623.3,309.1 L621.5,307.8 L620.5,306.5 L620.3,305.4" stroke-width="2.30" stroke-linecap="butt" stroke="#fff"/>
<path d="M653.0,319.5 L652.1,321.2 L650.5,322.6 L648.0,323.7 L645.0,324.5 L641.5,324.8 L637.7,324.8 L633.8,324.5 L630.0,323.8 L626.4,322.9 L623.2,321.7 L620.7,320.5 L618.9,319.2 L617.9,318.0 L617.7,316.9 L618.3,316.0" stroke-width="6.00" stroke-linecap="butt" stroke="#111"/>
<path d="M653.0,319.5 L652.1,321.2 L650.5,322.6 L648.0,323.7 L645.0,324.5 L641.5,324.8 L637.7,324.8 L633.8,324.5 L630.0,323.8 L626.4,322.9 L623.2,321.7 L620.7,320.5 L618.9,319.2 L617.9,318.0 L617.7,316.9 L618.3,316.0" stroke-width="2.30" stroke-linecap="butt" stroke="#fff"/>
<path d="M650.3,330.9 L649.5,332.6 L647.8,334.0 L645.4,335.1 L642.4,335.9 L638.9,336.3 L635.1,336.3 L631.1,335.9 L627.3,335.2 L623.7,334.3 L620.6,333.2 L618.1,331.9 L616.2,330.6 L615.2,329.4 L615.0,328.3" stroke-width="6.00" stroke-linecap="butt" stroke="#111"/>
<path d="M650.3,330.9 L649.5,332.6 L647.8,334.0 L645.4,335.1 L642.4,335.9 L638.9,336.3 L635.1,336.3 L631.1,335.9 L627.3,335.2 L623.7,334.3 L620.6,333.2 L618.1,331.9 L616.2,330.6 L615.2,329.4 L615.0,328.3" stroke-width="2.30" stroke-linecap="butt" stroke="#fff"/>
<path d="M647.7,342.3 L646.8,344.0 L645.2,345.5 L642.7,346.6 L639.7,347.3 L636.2,347.7 L632.4,347.7 L628.5,347.3 L624.6,346.7 L621.1,345.7 L617.9,344.6 L615.4,343.3 L613.6,342.1 L612.5,340.8 L612.4,339.7 L613.0,338.8" stroke-width="6.00" stroke-linecap="butt" stroke="#111"/>
<path d="M647.7,342.3 L646.8,344.0 L645.2,345.5 L642.7,346.6 L639.7,347.3 L636.2,347.7 L632.4,347.7 L628.5,347.3 L624.6,346.7 L621.1,345.7 L617.9,344.6 L615.4,343.3 L613.6,342.1 L612.5,340.8 L612.4,339.7 L613.0,338.8" stroke-width="2.30" stroke-linecap="butt" stroke="#fff"/>
<path d="M645.0,353.8 L644.2,355.5 L642.5,356.9 L640.1,358.0 L637.0,358.8 L633.5,359.1 L629.7,359.1 L625.8,358.8 L622.0,358.1 L618.4,357.2 L615.3,356.0 L612.7,354.8 L610.9,353.5 L609.9,352.3 L609.7,351.2" stroke-width="6.00" stroke-linecap="butt" stroke="#111"/>
<path d="M645.0,353.8 L644.2,355.5 L642.5,356.9 L640.1,358.0 L637.0,358.8 L633.5,359.1 L629.7,359.1 L625.8,358.8 L622.0,358.1 L618.4,357.2 L615.3,356.0 L612.7,354.8 L610.9,353.5 L609.9,352.3 L609.7,351.2" stroke-width="2.30" stroke-linecap="butt" stroke="#fff"/>
<path d="M642.4,365.2 L641.5,366.9 L639.8,368.3 L637.4,369.4 L634.4,370.2 L630.9,370.6 L627.1,370.6 L623.1,370.2 L619.3,369.5 L615.7,368.6 L612.6,367.5 L610.1,366.2 L608.2,364.9 L607.2,363.7 L607.0,362.6" stroke-width="6.00" stroke-linecap="butt" stroke="#111"/>
<path d="M642.4,365.2 L641.5,366.9 L639.8,368.3 L637.4,369.4 L634.4,370.2 L630.9,370.6 L627.1,370.6 L623.1,370.2 L619.3,369.5 L615.7,368.6 L612.6,367.5 L610.1,366.2 L608.2,364.9 L607.2,363.7 L607.0,362.6" stroke-width="2.30" stroke-linecap="butt" stroke="#fff"/>
<path d="M639.7,376.6 L638.8,378.3 L637.1,379.8 L634.7,380.9 L631.7,381.6 L628.2,382.0 L624.4,382.0 L620.5,381.6 L616.6,381.0 L613.1,380.0 L609.9,378.9 L607.4,377.6 L605.5,376.4 L604.5,375.1 L604.3,374.0" stroke-width="6.00" stroke-linecap="butt" stroke="#111"/>
<path d="M639.7,376.6 L638.8,378.3 L637.1,379.8 L634.7,380.9 L631.7,381.6 L628.2,382.0 L624.4,382.0 L620.5,381.6 L616.6,381.0 L613.1,380.0 L609.9,378.9 L607.4,377.6 L605.5,376.4 L604.5,375.1 L604.3,374.0" stroke-width="2.30" stroke-linecap="butt" stroke="#fff"/>
<path d="M637.0,388.0 L636.1,389.8 L634.5,391.2 L632.0,392.3 L629.0,393.1 L625.5,393.4 L621.7,393.4 L617.8,393.1 L613.9,392.4 L610.4,391.5 L607.2,390.3 L604.7,389.1 L602.9,387.8 L601.8,386.6 L601.7,385.5 L602.3,384.6" stroke-width="6.00" stroke-linecap="butt" stroke="#111"/>
<path d="M637.0,388.0 L636.1,389.8 L634.5,391.2 L632.0,392.3 L629.0,393.1 L625.5,393.4 L621.7,393.4 L617.8,393.1 L613.9,392.4 L610.4,391.5 L607.2,390.3 L604.7,389.1 L602.9,387.8 L601.8,386.6 L601.7,385.5 L602.3,384.6" stroke-width="2.30" stroke-linecap="butt" stroke="#fff"/>
<path d="M634.3,399.5 L633.4,401.2 L631.8,402.6 L629.3,403.7 L626.3,404.5 L622.8,404.9 L619.0,404.9 L615.1,404.5 L611.2,403.8 L607.7,402.9 L604.5,401.8 L602.0,400.5 L600.2,399.2 L599.1,398.0 L599.0,396.9" stroke-width="6.00" stroke-linecap="butt" stroke="#111"/>
<path d="M634.3,399.5 L633.4,401.2 L631.8,402.6 L629.3,403.7 L626.3,404.5 L622.8,404.9 L619.0,404.9 L615.1,404.5 L611.2,403.8 L607.7,402.9 L604.5,401.8 L602.0,400.5 L600.2,399.2 L599.1,398.0 L599.0,396.9" stroke-width="2.30" stroke-linecap="butt" stroke="#fff"/>
<path d="M631.6,410.9 L630.7,412.6 L629.1,414.1 L626.6,415.2 L623.6,415.9 L620.1,416.3 L616.3,416.3 L612.4,415.9 L608.5,415.3 L605.0,414.3 L601.8,413.2 L599.3,411.9 L597.5,410.7 L596.4,409.4 L596.2,408.3" stroke-width="6.00" stroke-linecap="butt" stroke="#111"/>
<path d="M631.6,410.9 L630.7,412.6 L629.1,414.1 L626.6,415.2 L623.6,415.9 L620.1,416.3 L616.3,416.3 L612.4,415.9 L608.5,415.3 L605.0,414.3 L601.8,413.2 L599.3,411.9 L597.5,410.7 L596.4,409.4 L596.2,408.3" stroke-width="2.30" stroke-linecap="butt" stroke="#fff"/>
<path d="M628.9,422.3 L628.0,424.1 L626.3,425.5 L623.9,426.6 L620.9,427.3 L617.4,427.7 L613.6,427.7 L609.7,427.4 L605.8,426.7 L602.3,425.7 L599.1,424.6 L596.6,423.4 L594.7,422.1 L593.7,420.8 L593.5,419.7 L594.2,418.9" stroke-width="6.00" stroke-linecap="butt" stroke="#111"/>
<path d="M628.9,422.3 L628.0,424.1 L626.3,425.5 L623.9,426.6 L620.9,427.3 L617.4,427.7 L613.6,427.7 L609.7,427.4 L605.8,426.7 L602.3,425.7 L599.1,424.6 L596.6,423.4 L594.7,422.1 L593.7,420.8 L593.5,419.7 L594.2,418.9" stroke-width="2.30" stroke-linecap="butt" stroke="#fff"/>
<path d="M626.2,431.9 L626.2,433.8 L625.3,435.5 L623.6,436.9 L621.2,438.0 L618.2,438.8 L614.7,439.2 L610.9,439.1 L606.9,438.8 L603.1,438.1 L599.5,437.2 L596.4,436.0 L593.9,434.8 L592.0,433.5 L591.0,432.3 L590.8,431.2 L591.5,430.3" stroke-width="6.00" stroke-linecap="butt" stroke="#111"/>
<path d="M626.2,431.9 L626.2,433.8 L625.3,435.5 L623.6,436.9 L621.2,438.0 L618.2,438.8 L614.7,439.2 L610.9,439.1 L606.9,438.8 L603.1,438.1 L599.5,437.2 L596.4,436.0 L593.9,434.8 L592.0,433.5 L591.0,432.3 L590.8,431.2 L591.5,430.3" stroke-width="2.30" stroke-linecap="butt" stroke="#fff"/>
<path d="M623.4,445.2 L622.6,446.9 L620.9,448.3 L618.5,449.5 L615.4,450.2 L611.9,450.6 L608.1,450.6 L604.2,450.2 L600.4,449.5 L596.8,448.6 L593.7,447.5 L591.1,446.2 L589.3,444.9 L588.3,443.7 L588.1,442.6 L588.8,441.7" stroke-width="6.00" stroke-linecap="butt" stroke="#111"/>
<path d="M623.4,445.2 L622.6,446.9 L620.9,448.3 L618.5,449.5 L615.4,450.2 L611.9,450.6 L608.1,450.6 L604.2,450.2 L600.4,449.5 L596.8,448.6 L593.7,447.5 L591.1,446.2 L589.3,444.9 L588.3,443.7 L588.1,442.6 L588.8,441.7" stroke-width="2.30" stroke-linecap="butt" stroke="#fff"/>
<path d="M620.7,456.6 L619.8,458.3 L618.2,459.8 L615.7,460.9 L612.7,461.6 L609.2,462.0 L605.4,462.0 L601.5,461.7 L597.6,461.0 L594.1,460.0 L590.9,458.9 L588.4,457.7 L586.6,456.4 L585.5,455.1 L585.3,454.0" stroke-width="6.00" stroke-linecap="butt" stroke="#111"/>
<path d="M620.7,456.6 L619.8,458.3 L618.2,459.8 L615.7,460.9 L612.7,461.6 L609.2,462.0 L605.4,462.0 L601.5,461.7 L597.6,461.0 L594.1,460.0 L590.9,458.9 L588.4,457.7 L586.6,456.4 L585.5,455.1 L585.3,454.0" stroke-width="2.30" stroke-linecap="butt" stroke="#fff"/>
<path d="M618.0,468.1 L617.1,469.8 L615.4,471.2 L613.0,472.3 L610.0,473.1 L606.5,473.4 L602.7,473.4 L598.7,473.1 L594.9,472.4 L591.3,471.5 L588.2,470.3 L585.6,469.1 L583.8,467.8 L582.8,466.6 L582.6,465.5 L583.3,464.6" stroke-width="6.00" stroke-linecap="butt" stroke="#111"/>
<path d="M618.0,468.1 L617.1,469.8 L615.4,471.2 L613.0,472.3 L610.0,473.1 L606.5,473.4 L602.7,473.4 L598.7,473.1 L594.9,472.4 L591.3,471.5 L588.2,470.3 L585.6,469.1 L583.8,467.8 L582.8,466.6 L582.6,465.5 L583.3,464.6" stroke-width="2.30" stroke-linecap="butt" stroke="#fff"/>
<path d="M615.2,479.5 L614.4,481.2 L612.7,482.6 L610.3,483.8 L607.2,484.5 L603.7,484.9 L599.9,484.9 L596.0,484.5 L592.1,483.8 L588.6,482.9 L585.4,481.8 L582.9,480.5 L581.1,479.2 L580.0,478.0 L579.8,476.9 L580.5,476.0" stroke-width="6.00" stroke-linecap="butt" stroke="#111"/>
<path d="M615.2,479.5 L614.4,481.2 L612.7,482.6 L610.3,483.8 L607.2,484.5 L603.7,484.9 L599.9,484.9 L596.0,484.5 L592.1,483.8 L588.6,482.9 L585.4,481.8 L582.9,480.5 L581.1,479.2 L580.0,478.0 L579.8,476.9 L580.5,476.0" stroke-width="2.30" stroke-linecap="butt" stroke="#fff"/>
<path d="M612.5,490.9 L611.6,492.6 L609.9,494.1 L607.5,495.2 L604.5,495.9 L601.0,496.3 L597.1,496.3 L593.2,495.9 L589.4,495.3 L585.8,494.3 L582.7,493.2 L580.1,492.0 L578.3,490.7 L577.3,489.4 L577.1,488.3 L577.8,487.4" stroke-width="6.00" stroke-linecap="butt" stroke="#111"/>
<path d="M612.5,490.9 L611.6,492.6 L609.9,494.1 L607.5,495.2 L604.5,495.9 L601.0,496.3 L597.1,496.3 L593.2,495.9 L589.4,495.3 L585.8,494.3 L582.7,493.2 L580.1,492.0 L578.3,490.7 L577.3,489.4 L577.1,488.3 L577.8,487.4" stroke-width="2.30" stroke-linecap="butt" stroke="#fff"/>
<path d="M609.7,502.4 L608.8,504.1 L607.1,505.5 L604.7,506.6 L601.7,507.4 L598.2,507.7 L594.4,507.7 L590.5,507.4 L586.6,506.7 L583.0,505.8 L579.9,504.6 L577.4,503.4 L575.5,502.1 L574.5,500.9 L574.3,499.8 L575.0,498.9" stroke-width="6.00" stroke-linecap="butt" stroke="#111"/>
<path d="M609.7,502.4 L608.8,504.1 L607.1,505.5 L604.7,506.6 L601.7,507.4 L598.2,507.7 L594.4,507.7 L590.5,507.4 L586.6,506.7 L583.0,505.8 L579.9,504.6 L577.4,503.4 L575.5,502.1 L574.5,500.9 L574.3,499.8 L575.0,498.9" stroke-width="2.30" stroke-linecap="butt" stroke="#fff"/>
<path d="M606.9,513.8 L606.1,515.5 L604.4,516.9 L602.0,518.0 L598.9,518.8 L595.4,519.2 L591.6,519.2 L587.7,518.8 L583.8,518.1 L580.3,517.2 L577.1,516.1 L574.6,514.8 L572.7,513.5 L571.7,512.3 L571.5,511.2 L572.2,510.3" stroke-width="5.80" stroke-linecap="butt" stroke="#111"/>
<path d="M606.9,513.8 L606.1,515.5 L604.4,516.9 L602.0,518.0 L598.9,518.8 L595.4,519.2 L591.6,519.2 L587.7,518.8 L583.8,518.1 L580.3,517.2 L577.1,516.1 L574.6,514.8 L572.7,513.5 L571.7,512.3 L571.5,511.2 L572.2,510.3" stroke-width="2.30" stroke-linecap="butt" stroke="#fff"/>
<path d="M604.1,525.2 L603.3,526.9 L601.6,528.4 L599.2,529.5 L596.1,530.2 L592.6,530.6 L588.8,530.6 L584.9,530.2 L581.1,529.6 L577.5,528.6 L574.3,527.5 L571.8,526.2 L570.0,525.0 L568.9,523.7 L568.7,522.6 L569.4,521.7" stroke-width="5.80" stroke-linecap="butt" stroke="#111"/>
<path d="M604.1,525.2 L603.3,526.9 L601.6,528.4 L599.2,529.5 L596.1,530.2 L592.6,530.6 L588.8,530.6 L584.9,530.2 L581.1,529.6 L577.5,528.6 L574.3,527.5 L571.8,526.2 L570.0,525.0 L568.9,523.7 L568.7,522.6 L569.4,521.7" stroke-width="2.30" stroke-linecap="butt" stroke="#fff"/>
<path d="M601.3,536.7 L600.5,538.4 L598.8,539.8 L596.4,540.9 L593.3,541.7 L589.8,542.0 L586.0,542.0 L582.1,541.7 L578.3,541.0 L574.7,540.1 L571.5,538.9 L569.0,537.7 L567.2,536.4 L566.1,535.2 L566.0,534.1 L566.6,533.2" stroke-width="5.80" stroke-linecap="butt" stroke="#111"/>
<path d="M601.3,536.7 L600.5,538.4 L598.8,539.8 L596.4,540.9 L593.3,541.7 L589.8,542.0 L586.0,542.0 L582.1,541.7 L578.3,541.0 L574.7,540.1 L571.5,538.9 L569.0,537.7 L567.2,536.4 L566.1,535.2 L566.0,534.1 L566.6,533.2" stroke-width="2.30" stroke-linecap="butt" stroke="#fff"/>
<path d="M598.6,548.1 L597.7,549.8 L596.0,551.2 L593.6,552.3 L590.5,553.1 L587.0,553.5 L583.2,553.5 L579.3,553.1 L575.5,552.4 L571.9,551.5 L568.7,550.4 L566.2,549.1 L564.4,547.8 L563.3,546.6 L563.2,545.5 L563.8,544.6" stroke-width="5.80" stroke-linecap="butt" stroke="#111"/>
<path d="M598.6,548.1 L597.7,549.8 L596.0,551.2 L593.6,552.3 L590.5,553.1 L587.0,553.5 L583.2,553.5 L579.3,553.1 L575.5,552.4 L571.9,551.5 L568.7,550.4 L566.2,549.1 L564.4,547.8 L563.3,546.6 L563.2,545.5 L563.8,544.6" stroke-width="2.30" stroke-linecap="butt" stroke="#fff"/>
<path d="M595.7,559.5 L594.9,561.2 L593.2,562.7 L590.8,563.8 L587.7,564.5 L584.2,564.9 L580.4,564.9 L576.5,564.5 L572.7,563.9 L569.1,562.9 L565.9,561.8 L563.4,560.5 L561.6,559.3 L560.5,558.0 L560.3,556.9 L561.0,556.0" stroke-width="5.80" stroke-linecap="butt" stroke="#111"/>
<path d="M595.7,559.5 L594.9,561.2 L593.2,562.7 L590.8,563.8 L587.7,564.5 L584.2,564.9 L580.4,564.9 L576.5,564.5 L572.7,563.9 L569.1,562.9 L565.9,561.8 L563.4,560.5 L561.6,559.3 L560.5,558.0 L560.3,556.9 L561.0,556.0" stroke-width="2.30" stroke-linecap="butt" stroke="#fff"/>
<path d="M592.9,570.9 L592.1,572.7 L590.4,574.1 L588.0,575.2 L584.9,576.0 L581.4,576.3 L577.6,576.3 L573.7,576.0 L569.8,575.3 L566.3,574.4 L563.1,573.2 L560.6,572.0 L558.7,570.7 L557.7,569.5 L557.5,568.4 L558.2,567.5" stroke-width="5.80" stroke-linecap="butt" stroke="#111"/>
<path d="M592.9,570.9 L592.1,572.7 L590.4,574.1 L588.0,575.2 L584.9,576.0 L581.4,576.3 L577.6,576.3 L573.7,576.0 L569.8,575.3 L566.3,574.4 L563.1,573.2 L560.6,572.0 L558.7,570.7 L557.7,569.5 L557.5,568.4 L558.2,567.5" stroke-width="2.30" stroke-linecap="butt" stroke="#fff"/>
<path d="M590.1,580.5 L590.1,582.4 L589.2,584.1 L587.6,585.5 L585.1,586.6 L582.1,587.4 L578.6,587.8 L574.8,587.8 L570.9,587.4 L567.0,586.7 L563.4,585.8 L560.3,584.7 L557.7,583.4 L555.9,582.1 L554.9,580.9 L554.7,579.8 L555.4,578.9" stroke-width="5.80" stroke-linecap="butt" stroke="#111"/>
<path d="M590.1,580.5 L590.1,582.4 L589.2,584.1 L587.6,585.5 L585.1,586.6 L582.1,587.4 L578.6,587.8 L574.8,587.8 L570.9,587.4 L567.0,586.7 L563.4,585.8 L560.3,584.7 L557.7,583.4 L555.9,582.1 L554.9,580.9 L554.7,579.8 L555.4,578.9" stroke-width="2.30" stroke-linecap="butt" stroke="#fff"/>
<path d="M587.3,593.8 L586.4,595.5 L584.7,597.0 L582.3,598.1 L579.3,598.8 L575.8,599.2 L572.0,599.2 L568.0,598.8 L564.2,598.2 L560.6,597.2 L557.5,596.1 L554.9,594.8 L553.1,593.6 L552.0,592.3 L551.9,591.2 L552.5,590.3" stroke-width="5.80" stroke-linecap="butt" stroke="#111"/>
<path d="M587.3,593.8 L586.4,595.5 L584.7,597.0 L582.3,598.1 L579.3,598.8 L575.8,599.2 L572.0,599.2 L568.0,598.8 L564.2,598.2 L560.6,597.2 L557.5,596.1 L554.9,594.8 L553.1,593.6 L552.0,592.3 L551.9,591.2 L552.5,590.3" stroke-width="2.30" stroke-linecap="butt" stroke="#fff"/>
<path d="M584.4,605.2 L583.6,607.0 L581.9,608.4 L579.5,609.5 L576.4,610.2 L572.9,610.6 L569.1,610.6 L565.2,610.3 L561.3,609.6 L557.8,608.6 L554.6,607.5 L552.1,606.3 L550.2,605.0 L549.2,603.7 L549.0,602.6 L549.7,601.8" stroke-width="5.80" stroke-linecap="butt" stroke="#111"/>
<path d="M584.4,605.2 L583.6,607.0 L581.9,608.4 L579.5,609.5 L576.4,610.2 L572.9,610.6 L569.1,610.6 L565.2,610.3 L561.3,609.6 L557.8,608.6 L554.6,607.5 L552.1,606.3 L550.2,605.0 L549.2,603.7 L549.0,602.6 L549.7,601.8" stroke-width="2.30" stroke-linecap="butt" stroke="#fff"/>
<path d="M581.6,616.7 L580.7,618.4 L579.0,619.8 L576.6,620.9 L573.6,621.7 L570.1,622.1 L566.3,622.0 L562.3,621.7 L558.5,621.0 L554.9,620.1 L551.8,618.9 L549.2,617.7 L547.4,616.4 L546.4,615.2 L546.2,614.1 L546.8,613.2" stroke-width="5.80" stroke-linecap="butt" stroke="#111"/>
<path d="M581.6,616.7 L580.7,618.4 L579.0,619.8 L576.6,620.9 L573.6,621.7 L570.1,622.1 L566.3,622.0 L562.3,621.7 L558.5,621.0 L554.9,620.1 L551.8,618.9 L549.2,617.7 L547.4,616.4 L546.4,615.2 L546.2,614.1 L546.8,613.2" stroke-width="2.30" stroke-linecap="butt" stroke="#fff"/>
<path d="M578.7,628.1 L577.9,629.8 L576.2,631.3 L573.8,632.4 L570.7,633.1 L567.2,633.5 L563.4,633.5 L559.5,633.1 L555.6,632.4 L552.1,631.5 L548.9,630.4 L546.4,629.1 L544.5,627.8 L543.5,626.6 L543.3,625.5 L544.0,624.6" stroke-width="5.80" stroke-linecap="butt" stroke="#111"/>
<path d="M578.7,628.1 L577.9,629.8 L576.2,631.3 L573.8,632.4 L570.7,633.1 L567.2,633.5 L563.4,633.5 L559.5,633.1 L555.6,632.4 L552.1,631.5 L548.9,630.4 L546.4,629.1 L544.5,627.8 L543.5,626.6 L543.3,625.5 L544.0,624.6" stroke-width="2.30" stroke-linecap="butt" stroke="#fff"/>
<path d="M575.9,639.5 L575.0,641.2 L573.3,642.7 L570.9,643.8 L567.9,644.5 L564.4,644.9 L560.5,644.9 L556.6,644.6 L552.8,643.9 L549.2,642.9 L546.0,641.8 L543.5,640.6 L541.7,639.3 L540.6,638.0 L540.4,636.9 L541.1,636.1" stroke-width="5.80" stroke-linecap="butt" stroke="#111"/>
<path d="M575.9,639.5 L575.0,641.2 L573.3,642.7 L570.9,643.8 L567.9,644.5 L564.4,644.9 L560.5,644.9 L556.6,644.6 L552.8,643.9 L549.2,642.9 L546.0,641.8 L543.5,640.6 L541.7,639.3 L540.6,638.0 L540.4,636.9 L541.1,636.1" stroke-width="2.30" stroke-linecap="butt" stroke="#fff"/>
<path d="M573.0,651.0 L572.1,652.7 L570.5,654.1 L568.0,655.2 L565.0,656.0 L561.5,656.3 L557.7,656.3 L553.7,656.0 L549.9,655.3 L546.3,654.4 L543.2,653.2 L540.6,652.0 L538.8,650.7 L537.8,649.5 L537.6,648.4 L538.2,647.5" stroke-width="5.80" stroke-linecap="butt" stroke="#111"/>
<path d="M573.0,651.0 L572.1,652.7 L570.5,654.1 L568.0,655.2 L565.0,656.0 L561.5,656.3 L557.7,656.3 L553.7,656.0 L549.9,655.3 L546.3,654.4 L543.2,653.2 L540.6,652.0 L538.8,650.7 L537.8,649.5 L537.6,648.4 L538.2,647.5" stroke-width="2.30" stroke-linecap="butt" stroke="#fff"/>
<path d="M570.1,662.4 L569.3,664.1 L567.6,665.5 L565.2,666.7 L562.1,667.4 L558.6,667.8 L554.8,667.8 L550.9,667.4 L547.0,666.7 L543.4,665.8 L540.3,664.7 L537.7,663.4 L535.9,662.1 L534.9,660.9 L534.7,659.8 L535.4,658.9" stroke-width="5.80" stroke-linecap="butt" stroke="#111"/>
<path d="M570.1,662.4 L569.3,664.1 L567.6,665.5 L565.2,666.7 L562.1,667.4 L558.6,667.8 L554.8,667.8 L550.9,667.4 L547.0,666.7 L543.4,665.8 L540.3,664.7 L537.7,663.4 L535.9,662.1 L534.9,660.9 L534.7,659.8 L535.4,658.9" stroke-width="2.30" stroke-linecap="butt" stroke="#fff"/>
<path d="M567.3,671.9 L567.2,673.8 L566.4,675.5 L564.7,677.0 L562.3,678.1 L559.2,678.8 L555.7,679.2 L551.9,679.2 L548.0,678.8 L544.1,678.2 L540.5,677.2 L537.4,676.1 L534.9,674.9 L533.0,673.6 L532.0,672.3 L531.8,671.2 L532.5,670.3" stroke-width="5.50" stroke-linecap="butt" stroke="#111"/>
<path d="M567.3,671.9 L567.2,673.8 L566.4,675.5 L564.7,677.0 L562.3,678.1 L559.2,678.8 L555.7,679.2 L551.9,679.2 L548.0,678.8 L544.1,678.2 L540.5,677.2 L537.4,676.1 L534.9,674.9 L533.0,673.6 L532.0,672.3 L531.8,671.2 L532.5,670.3" stroke-width="2.40" stroke-linecap="butt" stroke="#fff"/>
<path d="M564.4,685.3 L563.5,687.0 L561.8,688.4 L559.4,689.5 L556.3,690.3 L552.8,690.6 L549.0,690.6 L545.1,690.3 L541.2,689.6 L537.7,688.7 L534.5,687.5 L532.0,686.3 L530.1,685.0 L529.1,683.8 L528.9,682.7 L529.6,681.8" stroke-width="5.50" stroke-linecap="butt" stroke="#111"/>
<path d="M564.4,685.3 L563.5,687.0 L561.8,688.4 L559.4,689.5 L556.3,690.3 L552.8,690.6 L549.0,690.6 L545.1,690.3 L541.2,689.6 L537.7,688.7 L534.5,687.5 L532.0,686.3 L530.1,685.0 L529.1,683.8 L528.9,682.7 L529.6,681.8" stroke-width="2.40" stroke-linecap="butt" stroke="#fff"/>
<path d="M561.4,696.7 L560.6,698.4 L558.9,699.8 L556.5,700.9 L553.4,701.7 L549.9,702.1 L546.1,702.1 L542.2,701.7 L538.3,701.0 L534.7,700.1 L531.6,699.0 L529.1,697.7 L527.2,696.4 L526.2,695.2 L526.0,694.1 L526.7,693.2" stroke-width="5.50" stroke-linecap="butt" stroke="#111"/>
<path d="M561.4,696.7 L560.6,698.4 L558.9,699.8 L556.5,700.9 L553.4,701.7 L549.9,702.1 L546.1,702.1 L542.2,701.7 L538.3,701.0 L534.7,700.1 L531.6,699.0 L529.1,697.7 L527.2,696.4 L526.2,695.2 L526.0,694.1 L526.7,693.2" stroke-width="2.40" stroke-linecap="butt" stroke="#fff"/>
<path d="M558.5,708.1 L557.7,709.8 L556.0,711.3 L553.6,712.4 L550.5,713.1 L547.0,713.5 L543.2,713.5 L539.3,713.1 L535.4,712.5 L531.8,711.5 L528.7,710.4 L526.1,709.1 L524.3,707.9 L523.3,706.6 L523.1,705.5 L523.7,704.6" stroke-width="5.50" stroke-linecap="butt" stroke="#111"/>
<path d="M558.5,708.1 L557.7,709.8 L556.0,711.3 L553.6,712.4 L550.5,713.1 L547.0,713.5 L543.2,713.5 L539.3,713.1 L535.4,712.5 L531.8,711.5 L528.7,710.4 L526.1,709.1 L524.3,707.9 L523.3,706.6 L523.1,705.5 L523.7,704.6" stroke-width="2.40" stroke-linecap="butt" stroke="#fff"/>
<path d="M555.6,719.6 L554.7,721.3 L553.1,722.7 L550.6,723.8 L547.6,724.6 L544.1,724.9 L540.3,724.9 L536.3,724.6 L532.5,723.9 L528.9,723.0 L525.8,721.8 L523.2,720.6 L521.4,719.3 L520.3,718.1 L520.2,717.0 L520.8,716.1" stroke-width="5.50" stroke-linecap="butt" stroke="#111"/>
<path d="M555.6,719.6 L554.7,721.3 L553.1,722.7 L550.6,723.8 L547.6,724.6 L544.1,724.9 L540.3,724.9 L536.3,724.6 L532.5,723.9 L528.9,723.0 L525.8,721.8 L523.2,720.6 L521.4,719.3 L520.3,718.1 L520.2,717.0 L520.8,716.1" stroke-width="2.40" stroke-linecap="butt" stroke="#fff"/>
<path d="M552.7,731.0 L551.8,732.7 L550.1,734.1 L547.7,735.2 L544.7,736.0 L541.2,736.4 L537.3,736.4 L533.4,736.0 L529.6,735.3 L526.0,734.4 L522.8,733.3 L520.3,732.0 L518.5,730.7 L517.4,729.5 L517.2,728.4 L517.9,727.5" stroke-width="5.50" stroke-linecap="butt" stroke="#111"/>
<path d="M552.7,731.0 L551.8,732.7 L550.1,734.1 L547.7,735.2 L544.7,736.0 L541.2,736.4 L537.3,736.4 L533.4,736.0 L529.6,735.3 L526.0,734.4 L522.8,733.3 L520.3,732.0 L518.5,730.7 L517.4,729.5 L517.2,728.4 L517.9,727.5" stroke-width="2.40" stroke-linecap="butt" stroke="#fff"/>
<path d="M549.8,742.4 L548.9,744.1 L547.2,745.6 L544.8,746.7 L541.7,747.4 L538.2,747.8 L534.4,747.8 L530.5,747.4 L526.6,746.8 L523.0,745.8 L519.9,744.7 L517.4,743.4 L515.5,742.2 L514.5,740.9 L514.3,739.8" stroke-width="5.50" stroke-linecap="butt" stroke="#111"/>
<path d="M549.8,742.4 L548.9,744.1 L547.2,745.6 L544.8,746.7 L541.7,747.4 L538.2,747.8 L534.4,747.8 L530.5,747.4 L526.6,746.8 L523.0,745.8 L519.9,744.7 L517.4,743.4 L515.5,742.2 L514.5,740.9 L514.3,739.8" stroke-width="2.40" stroke-linecap="butt" stroke="#fff"/>
<path d="M546.8,753.9 L545.9,755.6 L544.3,757.0 L541.8,758.1 L538.8,758.9 L535.3,759.2 L531.5,759.2 L527.5,758.9 L523.7,758.2 L520.1,757.3 L517.0,756.1 L514.4,754.9 L512.6,753.6 L511.5,752.4 L511.3,751.3 L512.0,750.4" stroke-width="5.50" stroke-linecap="butt" stroke="#111"/>
<path d="M546.8,753.9 L545.9,755.6 L544.3,757.0 L541.8,758.1 L538.8,758.9 L535.3,759.2 L531.5,759.2 L527.5,758.9 L523.7,758.2 L520.1,757.3 L517.0,756.1 L514.4,754.9 L512.6,753.6 L511.5,752.4 L511.3,751.3 L512.0,750.4" stroke-width="2.40" stroke-linecap="butt" stroke="#fff"/>
<path d="M543.9,765.3 L543.0,767.0 L541.3,768.4 L538.9,769.5 L535.8,770.3 L532.3,770.7 L528.5,770.7 L524.6,770.3 L520.7,769.6 L517.2,768.7 L514.0,767.6 L511.5,766.3 L509.6,765.0 L508.6,763.8 L508.4,762.7 L509.1,761.8" stroke-width="5.50" stroke-linecap="butt" stroke="#111"/>
<path d="M543.9,765.3 L543.0,767.0 L541.3,768.4 L538.9,769.5 L535.8,770.3 L532.3,770.7 L528.5,770.7 L524.6,770.3 L520.7,769.6 L517.2,768.7 L514.0,767.6 L511.5,766.3 L509.6,765.0 L508.6,763.8 L508.4,762.7 L509.1,761.8" stroke-width="2.40" stroke-linecap="butt" stroke="#fff"/>
<path d="M540.9,776.7 L540.0,778.4 L538.3,779.9 L535.9,781.0 L532.9,781.7 L529.4,782.1 L525.6,782.1 L521.6,781.7 L517.8,781.1 L514.2,780.1 L511.0,779.0 L508.5,777.7 L506.7,776.5 L505.6,775.2 L505.4,774.1 L506.1,773.2" stroke-width="5.50" stroke-linecap="butt" stroke="#111"/>
<path d="M540.9,776.7 L540.0,778.4 L538.3,779.9 L535.9,781.0 L532.9,781.7 L529.4,782.1 L525.6,782.1 L521.6,781.7 L517.8,781.1 L514.2,780.1 L511.0,779.0 L508.5,777.7 L506.7,776.5 L505.6,775.2 L505.4,774.1 L506.1,773.2" stroke-width="2.40" stroke-linecap="butt" stroke="#fff"/>
<path d="M537.9,788.1 L537.1,789.9 L535.4,791.3 L533.0,792.4 L529.9,793.2 L526.4,793.5 L522.6,793.5 L518.7,793.2 L514.8,792.5 L511.2,791.6 L508.1,790.4 L505.5,789.2 L503.7,787.9 L502.6,786.7 L502.5,785.6 L503.1,784.7" stroke-width="5.50" stroke-linecap="butt" stroke="#111"/>
<path d="M537.9,788.1 L537.1,789.9 L535.4,791.3 L533.0,792.4 L529.9,793.2 L526.4,793.5 L522.6,793.5 L518.7,793.2 L514.8,792.5 L511.2,791.6 L508.1,790.4 L505.5,789.2 L503.7,787.9 L502.6,786.7 L502.5,785.6 L503.1,784.7" stroke-width="2.40" stroke-linecap="butt" stroke="#fff"/>
<path d="M535.0,799.6 L534.1,801.3 L532.4,802.7 L530.0,803.8 L526.9,804.6 L523.4,805.0 L519.6,805.0 L515.7,804.6 L511.8,803.9 L508.2,803.0 L505.1,801.9 L502.5,800.6 L500.7,799.3 L499.7,798.1 L499.5,797.0 L500.1,796.1" stroke-width="5.50" stroke-linecap="butt" stroke="#111"/>
<path d="M535.0,799.6 L534.1,801.3 L532.4,802.7 L530.0,803.8 L526.9,804.6 L523.4,805.0 L519.6,805.0 L515.7,804.6 L511.8,803.9 L508.2,803.0 L505.1,801.9 L502.5,800.6 L500.7,799.3 L499.7,798.1 L499.5,797.0 L500.1,796.1" stroke-width="2.40" stroke-linecap="butt" stroke="#fff"/>
<path d="M532.0,811.0 L531.1,812.7 L529.4,814.2 L527.0,815.3 L524.0,816.0 L520.4,816.4 L516.6,816.4 L512.7,816.0 L508.8,815.4 L505.3,814.4 L502.1,813.3 L499.6,812.0 L497.7,810.7 L496.7,809.5 L496.5,808.4 L497.2,807.5" stroke-width="5.50" stroke-linecap="butt" stroke="#111"/>
<path d="M532.0,811.0 L531.1,812.7 L529.4,814.2 L527.0,815.3 L524.0,816.0 L520.4,816.4 L516.6,816.4 L512.7,816.0 L508.8,815.4 L505.3,814.4 L502.1,813.3 L499.6,812.0 L497.7,810.7 L496.7,809.5 L496.5,808.4 L497.2,807.5" stroke-width="2.40" stroke-linecap="butt" stroke="#fff"/>
<path d="M529.0,822.4 L528.1,824.1 L526.4,825.6 L524.0,826.7 L521.0,827.4 L517.4,827.8 L513.6,827.8 L509.7,827.5 L505.9,826.8 L502.3,825.8 L499.1,824.7 L496.6,823.5 L494.7,822.2 L493.7,820.9 L493.5,819.8" stroke-width="5.50" stroke-linecap="butt" stroke="#111"/>
<path d="M529.0,822.4 L528.1,824.1 L526.4,825.6 L524.0,826.7 L521.0,827.4 L517.4,827.8 L513.6,827.8 L509.7,827.5 L505.9,826.8 L502.3,825.8 L499.1,824.7 L496.6,823.5 L494.7,822.2 L493.7,820.9 L493.5,819.8" stroke-width="2.40" stroke-linecap="butt" stroke="#fff"/>
<ellipse cx="652.8" cy="236.5" rx="18.6" ry="7.0" transform="rotate(13.5 652.8 236.5)" stroke-width="2.69" fill="none" />
<ellipse cx="653.2" cy="238.5" rx="15" ry="4.6" transform="rotate(13.5 653.2 238.5)" stroke-width="1.79" fill="none" />
<ellipse cx="510.0" cy="826.2" rx="17.2" ry="6.4" transform="rotate(13.5 510.0 826.2)" stroke-width="5.15" fill="none" />
<ellipse cx="510.0" cy="826.2" rx="17.2" ry="6.4" transform="rotate(13.5 510.0 826.2)" stroke-width="2.13" fill="none" stroke="#fff"/>
<ellipse cx="508.9" cy="830.6" rx="17.2" ry="6.4" transform="rotate(13.5 508.9 830.6)" stroke-width="5.15" fill="none" />
<ellipse cx="508.9" cy="830.6" rx="17.2" ry="6.4" transform="rotate(13.5 508.9 830.6)" stroke-width="2.13" fill="none" stroke="#fff"/>
<path d="M651.7,170.8 L646.5,196 C650,200.5 655,203.5 660.4,205 C665,206.3 670,206.8 673.5,206.4 C676.5,205.8 678.5,204.2 679.4,202 L684.6,178.6 Z" stroke-width="2.46" fill="#fff" />
<path d="M650.9,174.5 C657.0,181.0 671.0,185.5 683.4,183.0" stroke-width="2.35" fill="none" />
<path d="M649.9,179.8 C656.0,186.3 670.0,190.8 682.4,188.3" stroke-width="2.35" fill="none" />
<path d="M648.8,185.1 C654.9,191.6 668.9,196.1 681.3,193.6" stroke-width="2.35" fill="none" />
<path d="M647.8,190.4 C653.9,196.9 667.9,201.4 680.2,198.9" stroke-width="2.35" fill="none" />
<path d="M646.7,195.7 C652.8,202.2 666.8,206.7 679.2,204.2" stroke-width="2.35" fill="none" />
<path d="M657,176 L681,182.5" stroke-width="3.58" fill="none" />
<path d="M666,180.0 l3.4,0.8" stroke-width="1.68" fill="none" stroke="#fff"/>
<ellipse cx="672.9" cy="162" rx="27.6" ry="10.6" transform="rotate(15 672.9 162)" stroke-width="2.24" fill="#fff" />
<path d="M646.5,160.5 C646,166 654,173 668,176.5 C682,180 695,178.5 699.5,173" stroke-width="2.02" fill="none" />
<path d="M647,163 C650,170 660,176.5 672,179.5 C684,182 694,180.5 699,176" stroke-width="2.02" fill="none" />
<path d="M656.5,148 C657,143 664,139.5 675,140 C686,141 694,146.5 694.8,152 L693.5,163 C690,167 680,168 672,166.5 C664,165 657.5,160.5 656,156 Z" stroke-width="2.24" fill="#fff" />
<path d="M660,149.5 C664,144.5 672,143 680,144.5 C688,146.5 691.5,150 691,153" stroke-width="1.57" fill="none" />
<path d="M660.5,150 L663,157 L685,162 L691,154" stroke-width="1.9" fill="none" />
<path d="M663,157 L662,163 M685,162 L684.5,168" stroke-width="1.68" fill="none" />
<path d="M685,162 l2,-4 l-4,-1 z" stroke-width="1.12" fill="#111" />
<ellipse cx="659" cy="215.9" rx="22.8" ry="8.6" transform="rotate(14.5 659 215.9)" stroke-width="2.8" fill="none" />
<ellipse cx="659" cy="216.2" rx="18.2" ry="5.4" transform="rotate(14.5 659 216.2)" stroke-width="2.58" fill="none" />
<ellipse cx="747" cy="239.8" rx="26.6" ry="10.4" transform="rotate(15 747 239.8)" stroke-width="2.35" fill="none" />
<ellipse cx="747.4" cy="241" rx="21.4" ry="7.4" transform="rotate(15 747.4 241)" stroke-width="3.25" fill="none" />
<path d="M720.6,236.5 L633.3,580 L576.8,810 L570.6,836 C570,839 570.8,841 572.2,841.8" stroke-width="1.57" fill="none" />
<path d="M773.2,246 L689,580 L631.6,810 L622.4,847 C620.5,851 618,853.5 615.5,854.5" stroke-width="1.57" fill="none" />
<path d="M572.2,841.8 C576,845.5 580,847.5 585.4,849.3 C591,851.5 596,853 601.6,853.9 C606,854.6 611,854.8 615.5,854.5" stroke-width="1.57" fill="none" />
<path d="M572.2,842.8 C569.5,845.5 568,848.5 567,851.6 L565.8,856.2 L547.3,927.8 C547,931 547.6,933.5 549,935.3" stroke-width="1.57" fill="none" />
<path d="M615.5,856.2 C616.8,858.5 617.4,860.5 617.2,863.1 C616.8,865.5 616,867.3 614.9,868.9 L598.1,940.5 C597,944 595,946.8 592.9,948.6" stroke-width="1.57" fill="none" />
<path d="M565.8,856.2 C570,860.5 576,863.3 582,865.4 C588,867.6 593.5,869.2 599.3,870.1 C605,870.8 610.5,870 614.9,867.8" stroke-width="1.57" fill="none" />
<path d="M549,935.3 C553.5,938.5 559,941 564.6,942.8 C570,944.8 576,946.8 582,948 C586,948.7 590,949 592.9,948.6" stroke-width="1.68" fill="none" />
<path d="M549,939.4 C553,943 558.5,945.8 564.6,948 C569.5,950 575,952.5 579.7,953.6 C584.5,954.2 589,953.5 592.4,952" stroke-width="1.57" fill="none" />
<path d="M549,936 L549.6,941.7 C553,945.5 557.5,948.5 562.3,950.9 C567.5,953.5 573,955.8 578.5,956.7 C582,957.2 585,956.9 587.7,956.1 C590.5,955 592.2,953 593,950.3" stroke-width="1.9" fill="none" />
<path d="M583,951 l6,-0.6" stroke-width="2.24" fill="none" />
<ellipse cx="501.8" cy="854.2" rx="24" ry="12.2" transform="rotate(13 501.8 854.2)" stroke-width="2.02" fill="#fff" />
<path d="M478.3,852 L478.6,856 C481,862 490,867.5 502,870 C512,872 521,871 524.8,866" stroke-width="1.68" fill="none" />
<ellipse cx="503" cy="852.6" rx="15.5" ry="6.8" transform="rotate(13 503 852.6)" stroke-width="1.79" fill="none" />
<ellipse cx="503.6" cy="853.6" rx="11" ry="4.4" transform="rotate(13 503.6 853.6)" stroke-width="1.46" fill="none" />
<path d="M487.5,848.5 l3,-2 M487.5,848.5 l3.5,1" stroke-width="1.34" fill="none" />
<path d="M508,859 C511,860.5 513.5,860.5 516,859 L517.5,861.5 L514,865 L509.5,864 Z" stroke-width="1.12" fill="#111" />
<path d="M515,864 l5,1.5 l3,-2" stroke-width="1.57" fill="none" />
<ellipse cx="494.2" cy="886.8" rx="23.2" ry="8.4" transform="rotate(13 494.2 886.8)" stroke-width="2.13" fill="#fff" />
<ellipse cx="494.6" cy="887.4" rx="18.6" ry="6.0" transform="rotate(13 494.6 887.4)" stroke-width="1.57" fill="none" />
<path d="M476.5,889 C482,893.5 492,896.5 503,897.6 C509,898 514,896.5 516.6,893" stroke-width="2.91" fill="none" />
<path d="M471.2,885.5 L466,907.1 M516.7,890.7 L512.4,913.2 L507.2,919.3" stroke-width="1.57" fill="none" />
<path d="M466,907.1 C470,910.5 475,913 480.3,914.9 C486,917 492,918.6 497.7,919.3 C501,919.7 504.5,919.7 507.2,919.3" stroke-width="2.13" fill="none" />
<path d="M466,907.1 L461.7,914.9 L462.1,919.3 L466.5,925.3 C470,927.5 474,929 478.6,930.5 C483.5,932 488.5,933.3 493.3,934 C496,934.2 498.5,934.1 500.3,933.6 C503,932.5 505,930 506.3,927.1 L508.9,921" stroke-width="2.13" fill="none" />
<path d="M461.7,916.7 C466,920 471,922 476,923.6 C480.5,925 485,925.9 489,926.2 C493,926.4 496.5,926 499.4,925.3 C502.5,924.3 505.5,922.5 507.8,920" stroke-width="1.68" fill="none" />
<path d="M468.6,910.6 C472,914.5 476.5,916.6 480.3,917.9 C486,919.8 491,921 493.3,921" stroke-width="1.46" fill="none" />
<path d="M477,923.6 l12,2.6" stroke-width="2.24" fill="none" />
<path d="M466.5,925.8 L422.3,1109.2 L423.1,1112.3" stroke-width="1.57" fill="none" />
<path d="M495,934.9 L453.5,1113.7" stroke-width="1.57" fill="none" />
<path d="M423.1,1112.3 C426,1114.2 429,1115.4 432.3,1116.2 C436,1117.6 440,1118.6 443.9,1118.9 C446.5,1119 449,1118.9 450.8,1118.5" stroke-width="1.68" fill="none" />
<path d="M423.1,1112.6 L422.7,1129 L419.6,1143.9 C421,1145.6 422.7,1146.8 424.6,1147.7 C428.5,1148.8 433,1149.3 437.7,1149.3 L438.5,1148.5 L441.6,1133.9 L443.9,1130 L450.8,1118.5 L453.9,1113.9" stroke-width="1.57" fill="none" />
<path d="M422.7,1129.3 C425.5,1130.8 428.8,1131.6 432.3,1132 C435.5,1132.8 438.6,1133.5 441.6,1133.9" stroke-width="1.57" fill="none" />
<ellipse cx="449.3" cy="1101.2" rx="3.6" ry="4.8" transform="rotate(20 449.3 1101.2)" fill="#111" stroke="none"/>
<path d="M485.5,950.5 l1.5,-1.6 l1.4,0.6 M485.7,950.4 l-0.3,4" stroke-width="1.46" fill="none" />
<path d="M481,972 l1.6,-1.4 l2,0.4 M481,972 l0,2.6" stroke-width="1.46" fill="none" />
<ellipse cx="417.3" cy="1185.6" rx="18.8" ry="8.4" transform="rotate(11 417.3 1185.6)" stroke-width="1.9" fill="#fff" />
<ellipse cx="417.3" cy="1185.6" rx="13.6" ry="5.0" transform="rotate(11 417.3 1185.6)" stroke-width="1.79" fill="#fff" />
<ellipse cx="420.0" cy="1177.4" rx="18.8" ry="8.4" transform="rotate(11 420.0 1177.4)" stroke-width="1.9" fill="#fff" />
<ellipse cx="420.0" cy="1177.4" rx="13.6" ry="5.0" transform="rotate(11 420.0 1177.4)" stroke-width="1.79" fill="#fff" />
<ellipse cx="422.6" cy="1169.0" rx="18.8" ry="8.4" transform="rotate(11 422.6 1169.0)" stroke-width="1.9" fill="#fff" />
<ellipse cx="422.6" cy="1169.0" rx="13.6" ry="5.0" transform="rotate(11 422.6 1169.0)" stroke-width="1.79" fill="#fff" />
<ellipse cx="425.6" cy="1160.2" rx="18.8" ry="8.4" transform="rotate(11 425.6 1160.2)" stroke-width="1.9" fill="#fff" />
<ellipse cx="425.6" cy="1160.2" rx="13.6" ry="5.0" transform="rotate(11 425.6 1160.2)" stroke-width="1.79" fill="#fff" />
<path d="M421.5,1171 L423.5,1171 L424.5,1183 L420.5,1183 Z" stroke-width="1.12" fill="#111" />
<path d="M408,1172.5 L420,1175.6 M411,1181 l8,2" stroke-width="2.46" fill="none" />
<path d="M911.5,298.6 L880.2,316.4 C878.5,319 877.5,322.5 876.8,325.8 L873.5,338 L874.8,344.7 C880,350.5 886.5,355.5 893.7,359.5 C902,364 911,367 920.6,369 C928.5,371 936,372.5 943.6,373 C949,373.4 954.5,373.2 959.7,372.3 C964,371 967.8,369 970.5,366.3 C973,363 974.8,359.5 975.9,355.5 L979.3,343.3 C979,340 978.3,337 977.3,333.9 L967.8,313.7" stroke-width="2.13" fill="#fff" />
<path d="M876.8,325.8 C884,331.5 892,336 900.4,339.3 C909,343 918,346.5 927.4,348.7 C936.5,350.8 945.5,352 954.3,352.1 C959,352.2 963.5,352 967.8,351.4 C972,350.5 976,348.5 978.6,346" stroke-width="1.79" fill="none" />
<ellipse cx="936.8" cy="309.8" rx="31.6" ry="13.4" transform="rotate(10 936.8 309.8)" stroke-width="2.24" fill="#fff" />
<path d="M906.5,303 C909,297 922,293.5 938,295 C952,297 963,303 967,311" stroke-width="3.36" fill="none" />
<ellipse cx="936.3" cy="310.6" rx="27" ry="10.2" transform="rotate(10 936.3 310.6)" stroke-width="1.68" fill="none" />
<ellipse cx="935.8" cy="313.2" rx="21.5" ry="7.2" transform="rotate(11 935.8 313.2)" stroke-width="2.69" fill="none" />
<ellipse cx="936.5" cy="315.6" rx="13" ry="4.0" transform="rotate(11 936.5 315.6)" stroke-width="1.79" fill="none" />
<circle cx="958" cy="333" r="0.7" fill="#333" stroke="none"/>
<circle cx="962" cy="338" r="0.7" fill="#333" stroke="none"/>
<circle cx="969" cy="342" r="0.7" fill="#333" stroke="none"/>
<circle cx="965" cy="347" r="0.7" fill="#333" stroke="none"/>
<circle cx="972" cy="336" r="0.7" fill="#333" stroke="none"/>
<circle cx="955" cy="340" r="0.7" fill="#333" stroke="none"/>
<circle cx="948" cy="336" r="0.7" fill="#333" stroke="none"/>
<circle cx="969" cy="358" r="0.7" fill="#333" stroke="none"/>
<path d="M881.8,437.8 C878.5,437.6 875.5,438 872.8,438.8 C869.5,440.3 867.3,442.5 866.9,445.2 C866.5,448 867.2,451 868.5,453.6 L872.2,463.2 C874.5,466.5 877.8,468.8 881.8,470.6 C886.5,472.8 892,474.8 897.6,475.9 C902.5,476.6 907.5,476.6 912.5,475.9 L919.9,468.5 L928.3,462.1 C929.5,460.5 929.8,458.6 929.4,456.8 C928.2,454.2 926,452.3 923.1,451" stroke-width="2.24" fill="#fff" />
<path d="M868.5,453.6 C872,456.5 876.5,458.5 881.8,460 C887,462 892,464 897.6,465.3 C903,466.6 908.5,467.4 913.5,467.4 C917.5,467 921,466 924.1,464.2 C926.5,462.5 928.3,460 929.2,457.5" stroke-width="2.02" fill="none" />
<path d="M898.7,385.9 L881.8,437.8 L880.2,446.2 C883.5,450.5 887.5,453.5 892.4,455.8 C897.5,458 903.5,459.6 909.3,460 C912.5,460 915.5,459.3 917.8,457.9 C919.5,456.3 920.5,454 920.9,451.5 L934.2,396.5 Z" stroke-width="2.13" fill="#fff" />
<path d="M890.8,410.2 C896,413.8 902,416.2 908.2,417.6 C915,418.8 922.5,419.2 929.4,418.7" stroke-width="1.57" fill="none" />
<ellipse cx="916.7" cy="390.2" rx="18.4" ry="7.6" transform="rotate(13 916.7 390.2)" stroke-width="2.24" fill="#fff" />
<ellipse cx="917" cy="391.4" rx="13.2" ry="5.0" transform="rotate(13 917 391.4)" stroke-width="3.14" fill="none" />
<path d="M899.5,389 l6,-4" stroke-width="1.68" fill="none" />
<path d="M856.3,505 L851.3,503.8 L842.5,495 L843.1,490 L861.3,488.8 C864,485.5 866.5,483.5 870,481.9 C874,480.8 878.5,481 882.6,481.9 C888.5,483 894.5,484.8 900,486.9 C905.5,489.2 910.5,492 915.1,495 C918.5,497.3 921,500 922,502.5 C922.5,505 921.6,507.3 920.1,508.8 C916,510.8 911.5,511.6 907.6,512.5 L902.6,517.5 C898.5,517.8 894,517.6 890,516.9 L876.3,513.8" stroke-width="5.38" fill="none" />
<path d="M856.3,505 L851.3,503.8 L842.5,495 L843.1,490 L861.3,488.8 C864,485.5 866.5,483.5 870,481.9 C874,480.8 878.5,481 882.6,481.9 C888.5,483 894.5,484.8 900,486.9 C905.5,489.2 910.5,492 915.1,495 C918.5,497.3 921,500 922,502.5 C922.5,505 921.6,507.3 920.1,508.8 C916,510.8 911.5,511.6 907.6,512.5 L902.6,517.5 C898.5,517.8 894,517.6 890,516.9 L876.3,513.8" stroke-width="1.57" fill="none" stroke="#fff"/>
<path d="M888,483 C898,485.5 910,491 917,497" stroke-width="4.03" fill="none" />
<path d="M851,503.5 L856.5,505.5" stroke-width="3.81" fill="none" />
<path d="M838.8,526.3 L835.6,545.1 C841,552 849,557.5 857.5,561.3 C864.5,564.8 872,567.8 880.1,569.5 C887,570.5 894,570.3 900.1,568.8 C904,567.3 907.3,565.2 909.5,562.6 L913.2,550.1 L916.3,541.3 Z" stroke-width="2.24" fill="#fff" />
<ellipse cx="877.6" cy="533.6" rx="39.6" ry="16.2" transform="rotate(11 877.6 533.6)" stroke-width="2.24" fill="#fff" />
<ellipse cx="878.4" cy="534.6" rx="35.2" ry="13.4" transform="rotate(11 878.4 534.6)" stroke-width="1.12" fill="#111" />
<ellipse cx="874.5" cy="534.8" rx="27.5" ry="9.2" transform="rotate(11 874.5 534.8)" stroke-width="1.12" fill="#fff" />
<ellipse cx="875.5" cy="536.5" rx="25" ry="7.8" transform="rotate(11 875.5 536.5)" stroke-width="1.79" fill="none" />
<ellipse cx="876.5" cy="539" rx="19" ry="5.6" transform="rotate(11 876.5 539)" stroke-width="3.14" fill="none" />
<ellipse cx="878" cy="540.6" rx="11" ry="2.8" transform="rotate(11 878 540.6)" stroke-width="1.79" fill="none" />
<path d="M842.5,524 C846,519.5 853,517.5 860,517" stroke-width="1.57" fill="none" stroke="#fff"/>
<path d="M846.5,530 C847,526 850,523 853.5,521.5" stroke-width="1.68" fill="none" stroke="#fff"/>
<path d="M897,545.5 l11,-3.4 l2.4,2 l-9,4.4 z" stroke-width="1.12" fill="#fff" stroke="#fff"/>
<path d="M899,550 L912.5,548.6" stroke-width="2.46" fill="none" />
<circle cx="885" cy="557" r="0.8" fill="#222" stroke="none"/>
<circle cx="890" cy="562" r="0.8" fill="#222" stroke="none"/>
<circle cx="895" cy="559" r="0.8" fill="#222" stroke="none"/>
<circle cx="899" cy="564" r="0.8" fill="#222" stroke="none"/>
<circle cx="903" cy="556" r="0.8" fill="#222" stroke="none"/>
<circle cx="888" cy="566" r="0.8" fill="#222" stroke="none"/>
<circle cx="893" cy="553" r="0.8" fill="#222" stroke="none"/>
<circle cx="905" cy="561" r="0.8" fill="#222" stroke="none"/>
<path d="M816.3,582 L814.3,595.4 L810.2,603.5 L808.9,608.9 L806.2,619.7 L802.8,630.5 L803.5,638.6 L804.8,642.6" stroke-width="2.13" fill="none" />
<path d="M908.6,599.5 L905.9,608.9 L901.9,619.7 L897.8,631.8 L896.5,638.6 L893.8,646.6 L889.7,657.4 L884.3,662.8 L878.9,673.6 L874.9,690" stroke-width="2.13" fill="none" />
<ellipse cx="862.6" cy="590" rx="47.4" ry="18.6" transform="rotate(11 862.6 590)" stroke-width="2.13" fill="none" />
<ellipse cx="864.4" cy="591.2" rx="41.6" ry="15.6" transform="rotate(11 864.4 591.2)" stroke-width="1.68" fill="none" />
<ellipse cx="862.3" cy="594" rx="37.4" ry="12.8" transform="rotate(11 862.3 594)" stroke-width="2.8" fill="none" />
<path d="M814.3,595.4 C821,601 829,605.5 837.2,608.9 C846,612.5 856,616 865.5,618.3 C874,620.3 883,621.3 891.1,621 C896,620.3 901,618 904.6,614.3" stroke-width="1.79" fill="none" />
<path d="M810.2,603.5 C818,609 827,613.5 837.2,617 C846,620 856,623 865.5,625.1 C874,626.6 882,627 889.7,626.4 C894.5,625.6 898.8,623 901.9,619.7" stroke-width="1.79" fill="none" />
<path d="M808.9,608.9 C815,614.5 822.5,619 830.4,622.4 C839,626.5 848,630.5 857.4,633.2 C866,635.3 875.5,636.3 884.3,635.9 C889.5,635.3 894,633.8 897.8,631.8" stroke-width="1.79" fill="none" />
<path d="M806.2,619.7 C813,625.5 821.5,630.5 830.4,634.5 C839,638.3 848,641.8 857.4,643.9 C864,645.2 871,645.6 877.6,645.3 C883,644.8 888,643.4 892.4,641.3" stroke-width="2.91" fill="none" />
<path d="M804.8,642.6 C812,648 821,652.5 830.4,656.1 C838,659 846,661.3 854.7,662.8 C861,663.9 867.5,664.4 873.6,664.2 C877.5,664 881,663.5 884.3,662.8" stroke-width="1.68" fill="none" />
<path d="M804.8,642.6 L785.3,730 L782.6,747.5" stroke-width="1.57" fill="none" />
<path d="M752.9,855.3 L744.2,890 L704.8,1040.5" stroke-width="1.57" fill="none" />
<path d="M874.9,690 L864.8,730 L848.6,794.7 L824.3,890 L798.4,1000 L792.6,1023.1" stroke-width="1.57" fill="none" />
<path d="M845.9,810.9 L847.9,848.6 L831.1,870.2 L829.1,875.6" stroke-width="2.13" fill="none" />
<path d="M845.6,808 L846.6,824" stroke-width="3.14" fill="none" />
<path d="M834.5,863 L829.5,876 L828,870 Z" stroke-width="1.12" fill="#111" />
<path d="M763,742.8 L787.3,750.9" stroke-width="2.46" fill="none" />
<path d="M794.7,754.9 L801.4,757.6" stroke-width="2.02" fill="none" />
<path d="M763,742.8 C759.5,744 757,746.5 755.6,750.2 L754.3,763.7 C754.8,765.3 755.6,766.4 757,767.1 L779.9,777.2 C782,776.3 783.3,775 783.9,773.1 L785.3,769.1" stroke-width="2.24" fill="none" />
<path d="M771.8,760.3 L783.9,769.1" stroke-width="1.46" fill="none" />
<path d="M772.5,778.5 L763,816.3 M777.2,779.9 L769.1,812.2" stroke-width="2.02" fill="none" />
<path d="M794.7,754.9 C791.5,760 789.5,767 788,774.5 L783.9,794.7 C782.5,801.5 780.8,808 778.5,813.6 C775.5,818.5 772,822.3 767.7,825" stroke-width="1.57" fill="none" />
<path d="M801.4,757.6 L796,782.6 L790.6,808.2 C789,812.5 786.8,816 783.9,819 C780,823 775.5,826.2 770.4,828.4" stroke-width="1.57" fill="none" />
<path d="M763,816.3 C758.5,819 754.5,822.5 751.6,827 C748.5,831 746.8,835 746.8,839.2 C747.5,843.5 749.2,846.5 751.6,848.6 C753.5,850 755.8,850.8 758.3,851.3 C761.5,853 764.3,855.3 766.4,858 C768.5,860.5 769.8,863 770.4,866.1 L769.1,871.5 L763,872.2" stroke-width="2.24" fill="none" />
<path d="M767.7,825 C765,827.5 763.3,830.5 762.3,833.8 C760.8,837.5 760,841 760.3,844.6 C761,848.5 762.6,851.5 765,854" stroke-width="2.02" fill="none" />
<path d="M762,847 C764,851 766,854 768.5,857" stroke-width="2.91" fill="none" />
<ellipse cx="769.8" cy="841.2" rx="4.4" ry="6.8" transform="rotate(25 769.8 841.2)" stroke-width="1.12" fill="#111" />
<circle cx="771.3" cy="841.5" r="1" fill="#fff" stroke="none"/>
<path d="M788,820.3 L774.5,868.8" stroke-width="1.23" fill="none" />
<path d="M770.5,826.5 C775,825.5 780,823 784,819" stroke-width="1.68" fill="none" />
<path d="M754.3,851.3 L758.3,864.8" stroke-width="2.69" fill="none" />
<path d="M756,845 l1.2,-5" stroke-width="1.12" fill="none" />
<path d="M704.8,1040.5 C706,1045 708.5,1049 710.8,1052 C711.5,1056 710.5,1060 708.9,1063.5 C705,1068.5 700.5,1072.8 697.3,1077 C693.5,1082.5 691,1088.5 690.6,1094.3 C691.5,1099 694,1102.5 697.3,1104.9 C701,1107 705,1108.3 708.9,1108.8 L721.4,1108.8 L732,1104.9" stroke-width="2.13" fill="none" />
<path d="M792.6,1023.1 C788.5,1023.3 785,1024.3 782,1026 C779,1028.5 777.3,1031.3 777.2,1034.6 C777.5,1037.5 778.5,1039.8 780.1,1041.4 C782,1043.5 784.3,1044.8 786.8,1045.2 C789.5,1044 791.8,1042 793.6,1039.5 C795.5,1037 796.5,1034 796.5,1030.8 C796,1027.5 794.6,1025 792.6,1023.1 Z" stroke-width="2.02" fill="none" />
<path d="M784.5,1032 C786,1030.5 787.5,1031.5 788,1033 C789,1031.5 791,1031.5 791.5,1033.5 C791.5,1036.5 789.5,1039 787.3,1040.2 C785.3,1038.5 784,1035.5 784.5,1032 Z" stroke-width="1.12" fill="#111" />
<path d="M786.8,1045.2 L784.9,1057.7 L780.1,1063.5" stroke-width="1.79" fill="none" />
<path d="M731,1062.6 C740,1064 749,1065.8 757,1066.4 C765,1066.2 773,1065 780.1,1063.5" stroke-width="2.46" fill="none" />
<path d="M780.1,1063.5 C782.5,1065.5 783.8,1068 783.9,1071.2 C784,1074.5 783.3,1077.8 782,1080.8 C780,1084 777.5,1086.5 774.3,1088.5 C771.5,1090 768.5,1090.7 765.7,1090.5 L762.8,1084.7" stroke-width="2.13" fill="none" />
<ellipse cx="772.4" cy="1076" rx="5.0" ry="7.2" transform="rotate(20 772.4 1076)" stroke-width="1.79" fill="none" />
<path d="M773.5,1073.5 l2,1.6 l-1.6,3.4" stroke-width="2.02" fill="none" />
<path d="M731,1062.6 C729.5,1066 727.5,1069.5 725.2,1072.2 C720,1076.5 714,1080.5 708.9,1084.7 C705.5,1088 703.6,1092 703.1,1096.2" stroke-width="1.68" fill="none" />
<ellipse cx="712.7" cy="1094.3" rx="3.8" ry="6.4" transform="rotate(28 712.7 1094.3)" stroke-width="1.12" fill="#111" />
<path d="M726.2,1074.1 C732,1074 738,1074.5 743.5,1075 L757,1075 C760.5,1077.5 763,1081 764.7,1084.7 C766,1088.5 766.3,1092 765.7,1095.3 L757,1099 C755.5,1096.5 753.5,1094.3 751.2,1092.4 C748.5,1090.3 746,1089 743.5,1088.5 C740.5,1090.5 738,1093.2 735.8,1096.2 C733.8,1099 732.2,1102 731,1104.9" stroke-width="2.24" fill="none" />
<path d="M726.2,1074.1 C729,1078 731,1082 732,1086 M743.5,1075 C739.5,1078.5 736.5,1082.5 734.5,1087" stroke-width="1.79" fill="none" />
<path d="M731,1083 l3,4.5 l-3.2,1 z" stroke-width="1.12" fill="#111" />
<path d="M732,1104.9 L727,1107 L736,1100 Z" stroke-width="1.34" fill="#111" />
<path d="M757,1099 l3.5,-0.6 M749,1097 l2,2.4" stroke-width="2.24" fill="none" />
<path d="M697.8,1122.0 L676.8,1205.0 M709.4,1125.0 L688.4,1208.0" stroke-width="1.7"/>
<path d="M697.8,1122.0 Q704.4,1120.2 709.4,1125.0" stroke-width="1.7"/>
<path d="M676.8,1205.0 Q681.8,1209.8 688.4,1208.0" stroke-width="1.7"/>
<path d="M697.3,1122.2 L708.8,1129.0 M696.3,1126.3 L707.8,1133.2 M695.2,1130.5 L706.7,1137.4 M694.2,1134.7 L705.6,1141.5 M693.1,1138.8 L704.6,1145.7 M692.1,1143.0 L703.5,1149.9 M691.0,1147.2 L702.5,1154.0 M690.0,1151.3 L701.4,1158.2" stroke-width="2.1" stroke-linecap="butt"/>
<path d="M689.0,1156.9 L700.6,1159.8" stroke-width="1.2"/>
<path d="M683.1,1178.6 L694.5,1185.5 M682.0,1182.8 L693.5,1189.6 M680.9,1186.9 L692.4,1193.8 M679.9,1191.1 L691.4,1198.0 M678.8,1195.3 L690.3,1202.1 M677.8,1199.4 L689.3,1206.3" stroke-width="2.1" stroke-linecap="butt"/>
<path d="M683.5,1178.5 L695.1,1181.4" stroke-width="1.2"/>
<path d="M744.0,1109.6 L724.4,1189.1 M755.6,1112.4 L736.0,1191.9" stroke-width="1.7"/>
<path d="M744.0,1109.6 Q750.6,1107.7 755.6,1112.4" stroke-width="1.7"/>
<path d="M724.4,1189.1 Q729.4,1193.8 736.0,1191.9" stroke-width="1.7"/>
<path d="M743.5,1109.7 L755.0,1116.5 M742.5,1113.9 L754.0,1120.7 M741.5,1118.0 L753.0,1124.8 M740.4,1122.2 L752.0,1129.0 M739.4,1126.4 L750.9,1133.2 M738.4,1130.6 L749.9,1137.4 M737.4,1134.7 L748.9,1141.5 M736.3,1138.9 L747.8,1145.7" stroke-width="2.1" stroke-linecap="butt"/>
<path d="M736.1,1141.4 L747.8,1144.2" stroke-width="1.2"/>
<path d="M731.2,1159.8 L742.7,1166.6 M730.2,1164.0 L741.7,1170.7 M729.1,1168.1 L740.6,1174.9 M728.1,1172.3 L739.6,1179.1 M727.1,1176.5 L738.6,1183.3 M726.0,1180.7 L737.5,1187.4 M725.0,1184.8 L736.5,1191.6" stroke-width="2.1" stroke-linecap="butt"/>
<path d="M731.6,1159.6 L743.3,1162.5" stroke-width="1.2"/>
<ellipse cx="807" cy="1045.2" rx="8.8" ry="10.6" transform="rotate(12 807 1045.2)" stroke-width="1.34" fill="#111" />
<ellipse cx="810.5" cy="1039.5" rx="2.2" ry="1.3" transform="rotate(25 810.5 1039.5)" fill="#fff" stroke="none"/>
<path d="M817.2,1056.8 L840.7,1070.8 M821.8,1049.2 L845.3,1063.2" stroke-width="1.5"/>
<path d="M817.2,1056.8 Q817.4,1051.7 821.8,1049.2" stroke-width="1.5"/>
<path d="M840.7,1070.8 Q845.1,1068.3 845.3,1063.2" stroke-width="1.5"/>
<path d="M817.6,1057.4 L824.9,1050.6 M821.0,1059.5 L828.3,1052.7 M824.4,1061.5 L831.8,1054.7 M827.9,1063.6 L835.2,1056.8 M831.3,1065.6 L838.6,1058.8 M834.7,1067.7 L842.1,1060.9 M838.2,1069.7 L845.5,1062.9" stroke-width="1.8" stroke-linecap="butt"/>
<path d="M842,1060 L848.5,1058.5 L857.5,1062 L861.2,1068.5 L859.5,1076 L853,1080 L846,1078 L841.5,1072 Z" stroke-width="2.02" fill="#fff" />
<path d="M848.5,1058.5 L846.5,1066 L841.5,1072 M846.5,1066 L855,1069.5 L857.5,1062 M855,1069.5 L853,1080" stroke-width="1.68" fill="none" />
<ellipse cx="700.8" cy="1216.6" rx="13.2" ry="8.2" transform="rotate(8 700.8 1216.6)" stroke-width="2.24" fill="#fff" />
<ellipse cx="699.2" cy="1218.2" rx="8.6" ry="5.2" transform="rotate(8 699.2 1218.2)" stroke-width="1.12" fill="#111" />
<ellipse cx="703.5" cy="1216.2" rx="2.4" ry="1.2" transform="rotate(20 703.5 1216.2)" fill="#fff" stroke="none"/>
<path d="M690,1221.5 C694,1225.5 702,1226.8 709,1224.5" stroke-width="2.02" fill="none" />
<path d="M691.6,1231.4 L678.9,1282.4 M700.2,1233.6 L687.5,1284.6" stroke-width="1.6"/>
<path d="M691.6,1231.4 Q696.5,1230.1 700.2,1233.6" stroke-width="1.6"/>
<path d="M678.9,1282.4 Q682.6,1285.9 687.5,1284.6" stroke-width="1.6"/>
<path d="M691.1,1231.9 L699.7,1237.0 M690.1,1235.8 L698.8,1240.8 M689.2,1239.7 L697.8,1244.7 M688.2,1243.6 L696.8,1248.6 M687.2,1247.4 L695.9,1252.5 M686.3,1251.3 L694.9,1256.4 M685.3,1255.2 L693.9,1260.3 M684.3,1259.1 L693.0,1264.1 M683.4,1263.0 L692.0,1268.0" stroke-width="1.8" stroke-linecap="butt"/>
<path d="M683.2,1265.1 L691.8,1267.2" stroke-width="1.2"/>
<path d="M673,1283 L669,1288.5 L669.5,1296.5 L675,1302.5 L686.5,1303.5 L693.5,1298.5 L694.5,1290 L690.5,1284.5 L686,1286 L678,1284.5 Z" stroke-width="2.24" fill="#fff" />
<path d="M669.5,1289.5 L676,1293.5 L688,1294.5 L694,1290.5 M676,1293.5 L675.5,1302 M688,1294.5 L687,1303" stroke-width="1.79" fill="none" />
<path d="M678.5,1284.5 L680,1279 M686.5,1286 L688,1281" stroke-width="1.68" fill="none" />
<path d="M658.6,1334.7 L663.2,1331 L685.1,1330.1 C690,1331 694.5,1333 697.9,1335.6 C700.5,1337.5 702,1340 702.5,1342.9 L699.7,1353.9 L697.9,1357.5 C696,1364 693,1370 688.8,1374 C685,1377.5 680.5,1379.8 676,1380.4 L663.2,1378.6 L661.3,1382.2 C655,1385.5 648,1388 641.2,1388.6 C636,1388.4 631,1387 626.6,1385 C623.5,1383.5 621.3,1381.8 620.2,1379.5 L624.7,1354.8 L631.1,1342.9 L637.5,1342 L653.1,1353 L654,1349.3 Z" stroke-width="2.24" fill="#fff" />
<path d="M663.2,1335.6 L691.5,1351.1 M658.6,1334.7 L663.2,1335.6" stroke-width="1.79" fill="none" />
<path d="M691.5,1351.1 C690.5,1357 689,1362 686.9,1366.7 C684.5,1370.5 681.5,1372.8 677.8,1373.1 C674.5,1372.8 672,1371.8 670.5,1370.4 L666.8,1362.1" stroke-width="2.24" fill="none" />
<path d="M692.4,1351.1 L699.7,1353.9" stroke-width="1.68" fill="none" />
<path d="M653.1,1353 L666.8,1362.1 M624.7,1354.8 L644.9,1361.2 L661.3,1364.9 L666.8,1362.1" stroke-width="1.9" fill="none" />
<path d="M661.3,1364.9 C660.3,1367.5 660,1370 660.4,1372.2 C661,1374.8 662,1377 663.2,1378.6 M664.5,1364.5 C663.6,1368.5 664.3,1373 667,1376.5" stroke-width="1.57" fill="none" />
<ellipse cx="687.8" cy="1338.3" rx="6.2" ry="3.6" transform="rotate(8 687.8 1338.3)" stroke-width="2.02" fill="none" />
<ellipse cx="638.5" cy="1354.8" rx="6.4" ry="3.4" transform="rotate(22 638.5 1354.8)" stroke-width="2.02" fill="none" />
<path d="M699.8,1343 L698.5,1354" stroke-width="3.36" fill="none" />
<path d="M641,1389 l2,2.5 l2,-2.6" stroke-width="1.34" fill="none" />
<path d="M616.8,1401 C618,1397.5 623,1395.6 629.5,1396 C636,1396.5 641,1399.5 642,1403.5 L641.5,1410 C639,1413.8 633.5,1415.6 628,1415 C622,1414 617.5,1411 616.5,1407.5 Z" stroke-width="2.02" fill="#fff" />
<ellipse cx="629.6" cy="1402.6" rx="11.6" ry="5.6" transform="rotate(12 629.6 1402.6)" stroke-width="1.12" fill="#111" />
<ellipse cx="625.5" cy="1400.3" rx="3.0" ry="1.2" transform="rotate(10 625.5 1400.3)" fill="#fff" stroke="none"/>
<path d="M624,1409.5 L625,1414.5 M635,1410.5 L635.5,1414" stroke-width="1.57" fill="none" />
<path d="M617,1404 C620,1408 628,1410.5 636,1409.5 C639,1409 641,1407.5 642,1405.5" stroke-width="1.46" fill="none" />
<ellipse cx="622" cy="1431.8" rx="12.8" ry="8.6" transform="rotate(16 622 1431.8)" stroke-width="2.02" fill="#fff" />
<ellipse cx="621.6" cy="1430.2" rx="10.8" ry="6.4" transform="rotate(16 621.6 1430.2)" stroke-width="1.12" fill="#111" />
<ellipse cx="617.5" cy="1427.6" rx="2.6" ry="1.1" transform="rotate(10 617.5 1427.6)" fill="#fff" stroke="none"/>
<path d="M610,1433 C612,1438 620,1441.3 628,1440 C631.5,1439.3 634,1437.5 635,1435" stroke-width="2.24" fill="none" />
<path d="M603.5,1454 L607,1449.5 L616,1448 L625,1451 L628.2,1457.5 L626.5,1464.5 L619,1469 L609,1468 L603.5,1462.5 Z" stroke-width="2.24" fill="#fff" />
<path d="M605,1452.5 L612,1448.5 L622,1449.5 L627,1455 L620,1459 L609.5,1458 Z" stroke-width="1.12" fill="#111" />
<ellipse cx="615.5" cy="1453.2" rx="3.4" ry="1.6" transform="rotate(12 615.5 1453.2)" fill="#fff" stroke="none"/>
<path d="M609.5,1458 L609,1468 M620,1459 L619,1469" stroke-width="1.68" fill="none" />
</svg>
</body></html>
